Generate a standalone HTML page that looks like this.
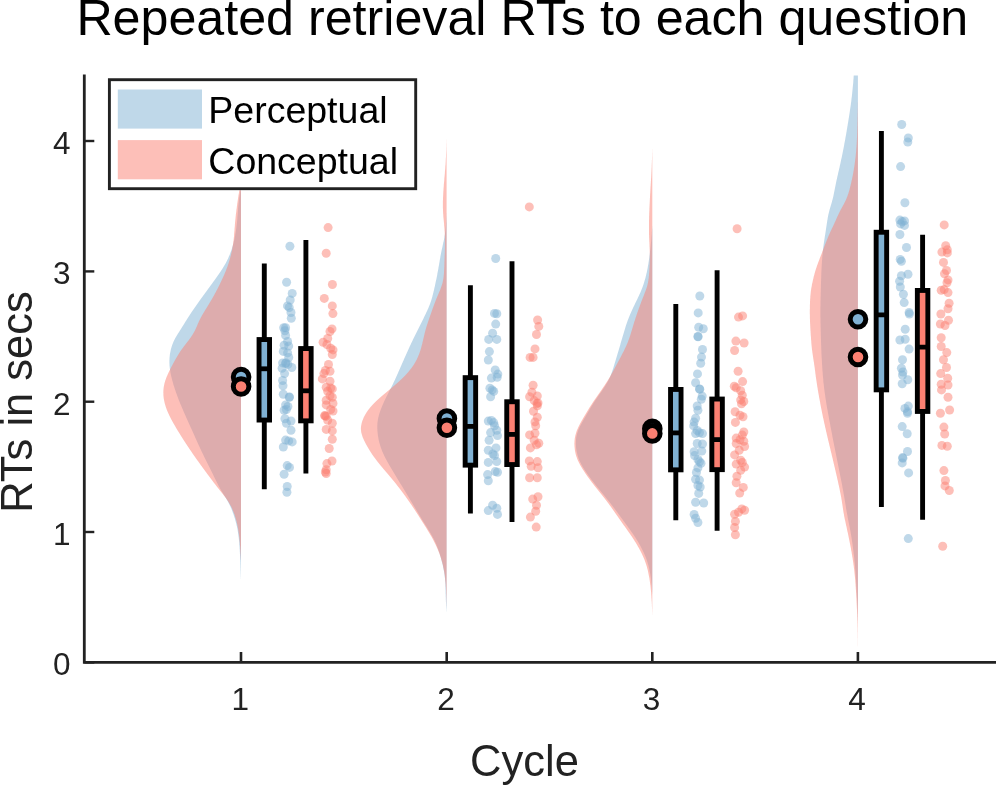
<!DOCTYPE html>
<html lang="en"><head><meta charset="utf-8"><title>Repeated retrieval RTs to each question</title>
<style>html,body{margin:0;padding:0;background:#fff;}body{width:996px;height:785px;overflow:hidden;}svg{display:block;}text{font-family:"Liberation Sans",Arial,Helvetica,sans-serif;}</style></head><body>
<svg width="996" height="785" viewBox="0 0 996 785">
<rect width="996" height="785" fill="#fff"/>
<defs><clipPath id="ax"><rect x="84.3" y="75.5" width="911.6" height="586.9"/></clipPath></defs>
<g clip-path="url(#ax)">
<path d="M241.0 190.2 L240.5 190.2 L240.3 191.2 L240.1 192.2 L240.0 193.2 L239.8 194.2 L239.6 195.2 L239.5 196.2 L239.3 197.2 L239.2 198.2 L239.1 199.2 L238.9 200.2 L238.8 201.2 L238.7 202.2 L238.6 203.2 L238.5 204.2 L238.4 205.2 L238.3 206.2 L238.2 207.2 L238.1 208.2 L238.1 209.2 L238.0 210.2 L237.9 211.2 L237.8 212.2 L237.8 213.2 L237.7 214.2 L237.6 215.2 L237.5 216.2 L237.4 217.2 L237.4 218.2 L237.3 219.2 L237.2 220.2 L237.1 221.2 L237.0 222.2 L236.9 223.2 L236.8 224.2 L236.6 225.2 L236.5 226.2 L236.4 227.2 L236.3 228.2 L236.1 229.2 L236.0 230.2 L235.8 231.2 L235.7 232.2 L235.5 233.2 L235.3 234.2 L235.2 235.2 L235.0 236.2 L234.8 237.2 L234.6 238.2 L234.4 239.2 L234.2 240.2 L233.9 241.2 L233.7 242.2 L233.5 243.2 L233.2 244.2 L232.9 245.2 L232.6 246.2 L232.3 247.2 L232.0 248.2 L231.7 249.2 L231.4 250.2 L231.0 251.2 L230.6 252.2 L230.3 253.2 L229.9 254.2 L229.5 255.2 L229.0 256.2 L228.6 257.2 L228.2 258.2 L227.7 259.2 L227.2 260.2 L226.7 261.2 L226.2 262.2 L225.7 263.2 L225.1 264.2 L224.5 265.2 L223.9 266.2 L223.3 267.2 L222.7 268.2 L222.1 269.2 L221.4 270.2 L220.8 271.2 L220.1 272.2 L219.4 273.2 L218.7 274.2 L218.0 275.2 L217.3 276.2 L216.6 277.2 L215.9 278.2 L215.2 279.2 L214.5 280.2 L213.7 281.2 L213.0 282.2 L212.3 283.2 L211.6 284.2 L210.8 285.2 L210.1 286.2 L209.4 287.2 L208.6 288.2 L207.9 289.2 L207.2 290.2 L206.5 291.2 L205.7 292.2 L205.0 293.2 L204.3 294.2 L203.5 295.2 L202.8 296.2 L202.1 297.2 L201.3 298.2 L200.6 299.2 L199.9 300.2 L199.2 301.2 L198.5 302.2 L197.8 303.2 L197.1 304.2 L196.4 305.2 L195.7 306.2 L195.0 307.2 L194.3 308.2 L193.6 309.2 L192.9 310.2 L192.2 311.2 L191.5 312.2 L190.9 313.2 L190.2 314.2 L189.6 315.2 L188.9 316.2 L188.3 317.2 L187.6 318.2 L187.0 319.2 L186.4 320.2 L185.7 321.2 L185.1 322.2 L184.5 323.2 L183.9 324.2 L183.3 325.2 L182.6 326.2 L182.0 327.2 L181.4 328.2 L180.8 329.2 L180.1 330.2 L179.5 331.2 L178.9 332.2 L178.2 333.2 L177.6 334.2 L177.0 335.2 L176.4 336.2 L175.8 337.2 L175.2 338.2 L174.7 339.2 L174.2 340.2 L173.7 341.2 L173.3 342.2 L172.9 343.2 L172.5 344.2 L172.1 345.2 L171.8 346.2 L171.5 347.2 L171.2 348.2 L170.9 349.2 L170.7 350.2 L170.5 351.2 L170.3 352.2 L170.1 353.2 L169.9 354.2 L169.8 355.2 L169.7 356.2 L169.6 357.2 L169.5 358.2 L169.5 359.2 L169.4 360.2 L169.4 361.2 L169.4 362.2 L169.4 363.2 L169.5 364.2 L169.5 365.2 L169.6 366.2 L169.7 367.2 L169.8 368.2 L170.0 369.2 L170.1 370.2 L170.3 371.2 L170.4 372.2 L170.6 373.2 L170.8 374.2 L171.0 375.2 L171.2 376.2 L171.5 377.2 L171.7 378.2 L172.0 379.2 L172.2 380.2 L172.5 381.2 L172.8 382.2 L173.1 383.2 L173.3 384.2 L173.6 385.2 L174.0 386.2 L174.3 387.2 L174.6 388.2 L174.9 389.2 L175.3 390.2 L175.6 391.2 L175.9 392.2 L176.3 393.2 L176.7 394.2 L177.0 395.2 L177.4 396.2 L177.8 397.2 L178.1 398.2 L178.5 399.2 L178.9 400.2 L179.3 401.2 L179.7 402.2 L180.1 403.2 L180.5 404.2 L181.0 405.2 L181.4 406.2 L181.8 407.2 L182.2 408.2 L182.7 409.2 L183.1 410.2 L183.5 411.2 L183.9 412.2 L184.4 413.2 L184.8 414.2 L185.3 415.2 L185.7 416.2 L186.1 417.2 L186.6 418.2 L187.0 419.2 L187.5 420.2 L187.9 421.2 L188.4 422.2 L188.8 423.2 L189.3 424.2 L189.7 425.2 L190.2 426.2 L190.6 427.2 L191.1 428.2 L191.6 429.2 L192.0 430.2 L192.5 431.2 L192.9 432.2 L193.4 433.2 L193.8 434.2 L194.3 435.2 L194.7 436.2 L195.1 437.2 L195.6 438.2 L196.0 439.2 L196.5 440.2 L196.9 441.2 L197.4 442.2 L197.8 443.2 L198.3 444.2 L198.7 445.2 L199.2 446.2 L199.7 447.2 L200.1 448.2 L200.6 449.2 L201.1 450.2 L201.5 451.2 L202.0 452.2 L202.5 453.2 L203.0 454.2 L203.5 455.2 L203.9 456.2 L204.4 457.2 L204.9 458.2 L205.4 459.2 L205.9 460.2 L206.4 461.2 L206.9 462.2 L207.4 463.2 L207.9 464.2 L208.4 465.2 L208.9 466.2 L209.4 467.2 L209.9 468.2 L210.4 469.2 L210.9 470.2 L211.4 471.2 L211.9 472.2 L212.4 473.2 L212.9 474.2 L213.4 475.2 L213.8 476.2 L214.3 477.2 L214.8 478.2 L215.3 479.2 L215.8 480.2 L216.3 481.2 L216.8 482.2 L217.3 483.2 L217.8 484.2 L218.3 485.2 L218.8 486.2 L219.4 487.2 L219.9 488.2 L220.5 489.2 L221.1 490.2 L221.7 491.2 L222.3 492.2 L222.9 493.2 L223.5 494.2 L224.2 495.2 L224.8 496.2 L225.4 497.2 L226.0 498.2 L226.6 499.2 L227.2 500.2 L227.7 501.2 L228.3 502.2 L228.8 503.2 L229.3 504.2 L229.8 505.2 L230.3 506.2 L230.7 507.2 L231.2 508.2 L231.6 509.2 L232.0 510.2 L232.4 511.2 L232.7 512.2 L233.1 513.2 L233.5 514.2 L233.8 515.2 L234.1 516.2 L234.4 517.2 L234.8 518.2 L235.1 519.2 L235.3 520.2 L235.6 521.2 L235.9 522.2 L236.2 523.2 L236.4 524.2 L236.6 525.2 L236.9 526.2 L237.1 527.2 L237.3 528.2 L237.5 529.2 L237.7 530.2 L237.8 531.2 L238.0 532.2 L238.1 533.2 L238.3 534.2 L238.4 535.2 L238.5 536.2 L238.7 537.2 L238.8 538.2 L238.9 539.2 L239.0 540.2 L239.1 541.2 L239.2 542.2 L239.3 543.2 L239.3 544.2 L239.4 545.2 L239.5 546.2 L239.6 547.2 L239.6 548.2 L239.7 549.2 L239.8 550.2 L239.8 551.2 L239.9 552.2 L239.9 553.2 L240.0 554.2 L240.0 555.2 L240.1 556.2 L240.1 557.2 L240.2 558.2 L240.2 559.2 L240.3 560.2 L240.3 561.2 L240.4 562.2 L240.4 563.2 L240.4 564.2 L240.5 565.2 L240.5 566.2 L240.5 567.2 L240.6 568.2 L240.6 569.2 L240.6 570.2 L240.7 571.2 L240.7 572.2 L240.7 573.2 L240.8 574.2 L240.8 575.2 L240.8 576.2 L240.9 577.2 L240.9 578.2 L240.9 579.2 L241.0 579.2 Z" fill="#80B1D3" fill-opacity="0.5"/>
<path d="M241.0 190.2 L239.3 190.2 L239.2 191.2 L239.0 192.2 L238.9 193.2 L238.7 194.2 L238.5 195.2 L238.4 196.2 L238.2 197.2 L238.1 198.2 L237.9 199.2 L237.8 200.2 L237.6 201.2 L237.5 202.2 L237.3 203.2 L237.2 204.2 L237.1 205.2 L236.9 206.2 L236.8 207.2 L236.7 208.2 L236.5 209.2 L236.4 210.2 L236.3 211.2 L236.2 212.2 L236.0 213.2 L235.9 214.2 L235.8 215.2 L235.7 216.2 L235.6 217.2 L235.5 218.2 L235.4 219.2 L235.3 220.2 L235.2 221.2 L235.1 222.2 L235.0 223.2 L234.9 224.2 L234.9 225.2 L234.8 226.2 L234.7 227.2 L234.6 228.2 L234.5 229.2 L234.5 230.2 L234.4 231.2 L234.3 232.2 L234.2 233.2 L234.1 234.2 L234.1 235.2 L234.0 236.2 L233.9 237.2 L233.8 238.2 L233.7 239.2 L233.6 240.2 L233.4 241.2 L233.3 242.2 L233.2 243.2 L233.0 244.2 L232.9 245.2 L232.7 246.2 L232.5 247.2 L232.4 248.2 L232.2 249.2 L232.0 250.2 L231.8 251.2 L231.5 252.2 L231.3 253.2 L231.1 254.2 L230.9 255.2 L230.6 256.2 L230.3 257.2 L230.1 258.2 L229.8 259.2 L229.5 260.2 L229.2 261.2 L228.9 262.2 L228.6 263.2 L228.3 264.2 L227.9 265.2 L227.6 266.2 L227.2 267.2 L226.8 268.2 L226.4 269.2 L226.1 270.2 L225.7 271.2 L225.2 272.2 L224.8 273.2 L224.4 274.2 L224.0 275.2 L223.5 276.2 L223.1 277.2 L222.6 278.2 L222.1 279.2 L221.7 280.2 L221.2 281.2 L220.7 282.2 L220.3 283.2 L219.8 284.2 L219.3 285.2 L218.8 286.2 L218.3 287.2 L217.8 288.2 L217.3 289.2 L216.7 290.2 L216.2 291.2 L215.7 292.2 L215.1 293.2 L214.6 294.2 L214.1 295.2 L213.5 296.2 L212.9 297.2 L212.4 298.2 L211.8 299.2 L211.2 300.2 L210.6 301.2 L210.0 302.2 L209.4 303.2 L208.8 304.2 L208.2 305.2 L207.6 306.2 L207.0 307.2 L206.4 308.2 L205.7 309.2 L205.1 310.2 L204.5 311.2 L203.9 312.2 L203.3 313.2 L202.7 314.2 L202.1 315.2 L201.6 316.2 L201.0 317.2 L200.5 318.2 L200.0 319.2 L199.5 320.2 L199.0 321.2 L198.6 322.2 L198.1 323.2 L197.7 324.2 L197.3 325.2 L196.9 326.2 L196.4 327.2 L196.0 328.2 L195.5 329.2 L195.1 330.2 L194.5 331.2 L194.0 332.2 L193.4 333.2 L192.8 334.2 L192.2 335.2 L191.5 336.2 L190.9 337.2 L190.1 338.2 L189.4 339.2 L188.7 340.2 L187.9 341.2 L187.1 342.2 L186.3 343.2 L185.6 344.2 L184.8 345.2 L184.0 346.2 L183.3 347.2 L182.6 348.2 L181.8 349.2 L181.1 350.2 L180.4 351.2 L179.8 352.2 L179.1 353.2 L178.5 354.2 L177.9 355.2 L177.3 356.2 L176.7 357.2 L176.1 358.2 L175.5 359.2 L175.0 360.2 L174.4 361.2 L173.9 362.2 L173.3 363.2 L172.8 364.2 L172.3 365.2 L171.7 366.2 L171.2 367.2 L170.7 368.2 L170.2 369.2 L169.7 370.2 L169.2 371.2 L168.7 372.2 L168.3 373.2 L167.8 374.2 L167.4 375.2 L166.9 376.2 L166.5 377.2 L166.1 378.2 L165.8 379.2 L165.4 380.2 L165.1 381.2 L164.8 382.2 L164.5 383.2 L164.3 384.2 L164.1 385.2 L163.9 386.2 L163.7 387.2 L163.6 388.2 L163.5 389.2 L163.4 390.2 L163.4 391.2 L163.3 392.2 L163.4 393.2 L163.4 394.2 L163.4 395.2 L163.5 396.2 L163.6 397.2 L163.7 398.2 L163.9 399.2 L164.1 400.2 L164.3 401.2 L164.5 402.2 L164.7 403.2 L165.0 404.2 L165.3 405.2 L165.6 406.2 L165.9 407.2 L166.3 408.2 L166.6 409.2 L167.0 410.2 L167.4 411.2 L167.9 412.2 L168.3 413.2 L168.8 414.2 L169.2 415.2 L169.7 416.2 L170.2 417.2 L170.7 418.2 L171.2 419.2 L171.8 420.2 L172.3 421.2 L172.9 422.2 L173.4 423.2 L174.0 424.2 L174.6 425.2 L175.2 426.2 L175.7 427.2 L176.3 428.2 L176.9 429.2 L177.5 430.2 L178.1 431.2 L178.8 432.2 L179.4 433.2 L180.0 434.2 L180.6 435.2 L181.2 436.2 L181.9 437.2 L182.5 438.2 L183.1 439.2 L183.8 440.2 L184.4 441.2 L185.1 442.2 L185.7 443.2 L186.4 444.2 L187.0 445.2 L187.7 446.2 L188.4 447.2 L189.0 448.2 L189.7 449.2 L190.4 450.2 L191.1 451.2 L191.8 452.2 L192.4 453.2 L193.1 454.2 L193.8 455.2 L194.5 456.2 L195.2 457.2 L195.9 458.2 L196.6 459.2 L197.3 460.2 L198.1 461.2 L198.8 462.2 L199.5 463.2 L200.2 464.2 L200.9 465.2 L201.7 466.2 L202.4 467.2 L203.1 468.2 L203.9 469.2 L204.6 470.2 L205.3 471.2 L206.1 472.2 L206.8 473.2 L207.5 474.2 L208.3 475.2 L209.0 476.2 L209.8 477.2 L210.5 478.2 L211.3 479.2 L212.0 480.2 L212.8 481.2 L213.5 482.2 L214.3 483.2 L215.1 484.2 L215.9 485.2 L216.6 486.2 L217.4 487.2 L218.2 488.2 L219.0 489.2 L219.8 490.2 L220.6 491.2 L221.4 492.2 L222.2 493.2 L223.0 494.2 L223.7 495.2 L224.5 496.2 L225.3 497.2 L226.0 498.2 L226.7 499.2 L227.4 500.2 L228.1 501.2 L228.7 502.2 L229.3 503.2 L229.9 504.2 L230.4 505.2 L231.0 506.2 L231.5 507.2 L232.0 508.2 L232.4 509.2 L232.8 510.2 L233.2 511.2 L233.6 512.2 L234.0 513.2 L234.4 514.2 L234.7 515.2 L235.0 516.2 L235.3 517.2 L235.6 518.2 L235.9 519.2 L236.2 520.2 L236.5 521.2 L236.7 522.2 L236.9 523.2 L237.2 524.2 L237.4 525.2 L237.6 526.2 L237.8 527.2 L238.0 528.2 L238.2 529.2 L238.3 530.2 L238.5 531.2 L238.6 532.2 L238.8 533.2 L238.9 534.2 L239.0 535.2 L239.2 536.2 L239.3 537.2 L239.4 538.2 L239.5 539.2 L239.6 540.2 L239.7 541.2 L239.8 542.2 L239.9 543.2 L239.9 544.2 L240.0 545.2 L240.1 546.2 L240.2 547.2 L240.2 548.2 L240.3 549.2 L240.4 550.2 L240.4 551.2 L240.5 552.2 L240.5 553.2 L240.6 554.2 L240.7 555.2 L240.7 556.2 L240.8 557.2 L240.8 558.2 L240.9 559.2 L240.9 560.2 L241.0 560.2 Z" fill="#FB8072" fill-opacity="0.5"/>
<path d="M446.6 211.5 L446.6 211.5 L446.6 212.5 L446.5 213.5 L446.5 214.5 L446.5 215.5 L446.4 216.5 L446.4 217.5 L446.3 218.5 L446.3 219.5 L446.2 220.5 L446.2 221.5 L446.1 222.5 L446.0 223.5 L446.0 224.5 L445.9 225.5 L445.8 226.5 L445.7 227.5 L445.6 228.5 L445.5 229.5 L445.4 230.5 L445.3 231.5 L445.1 232.5 L445.0 233.5 L444.9 234.5 L444.7 235.5 L444.5 236.5 L444.4 237.5 L444.2 238.5 L444.0 239.5 L443.8 240.5 L443.6 241.5 L443.3 242.5 L443.1 243.5 L442.9 244.5 L442.7 245.5 L442.5 246.5 L442.3 247.5 L442.0 248.5 L441.8 249.5 L441.6 250.5 L441.4 251.5 L441.2 252.5 L441.0 253.5 L440.8 254.5 L440.6 255.5 L440.4 256.5 L440.3 257.5 L440.1 258.5 L439.9 259.5 L439.7 260.5 L439.6 261.5 L439.4 262.5 L439.2 263.5 L439.1 264.5 L438.9 265.5 L438.7 266.5 L438.5 267.5 L438.4 268.5 L438.2 269.5 L438.0 270.5 L437.8 271.5 L437.6 272.5 L437.4 273.5 L437.3 274.5 L437.1 275.5 L436.9 276.5 L436.7 277.5 L436.5 278.5 L436.3 279.5 L436.0 280.5 L435.8 281.5 L435.6 282.5 L435.4 283.5 L435.2 284.5 L435.0 285.5 L434.8 286.5 L434.5 287.5 L434.3 288.5 L434.1 289.5 L433.9 290.5 L433.6 291.5 L433.4 292.5 L433.1 293.5 L432.9 294.5 L432.6 295.5 L432.4 296.5 L432.1 297.5 L431.8 298.5 L431.5 299.5 L431.2 300.5 L430.9 301.5 L430.5 302.5 L430.2 303.5 L429.8 304.5 L429.4 305.5 L429.0 306.5 L428.6 307.5 L428.2 308.5 L427.7 309.5 L427.3 310.5 L426.8 311.5 L426.3 312.5 L425.9 313.5 L425.4 314.5 L424.9 315.5 L424.4 316.5 L423.9 317.5 L423.5 318.5 L423.0 319.5 L422.5 320.5 L422.0 321.5 L421.5 322.5 L421.0 323.5 L420.5 324.5 L420.0 325.5 L419.5 326.5 L419.0 327.5 L418.5 328.5 L418.0 329.5 L417.5 330.5 L417.0 331.5 L416.5 332.5 L416.0 333.5 L415.5 334.5 L415.0 335.5 L414.5 336.5 L414.0 337.5 L413.5 338.5 L413.0 339.5 L412.6 340.5 L412.1 341.5 L411.6 342.5 L411.1 343.5 L410.7 344.5 L410.2 345.5 L409.7 346.5 L409.3 347.5 L408.8 348.5 L408.4 349.5 L407.9 350.5 L407.5 351.5 L407.0 352.5 L406.6 353.5 L406.1 354.5 L405.7 355.5 L405.2 356.5 L404.8 357.5 L404.3 358.5 L403.9 359.5 L403.5 360.5 L403.0 361.5 L402.6 362.5 L402.1 363.5 L401.7 364.5 L401.3 365.5 L400.8 366.5 L400.4 367.5 L400.0 368.5 L399.5 369.5 L399.1 370.5 L398.6 371.5 L398.2 372.5 L397.8 373.5 L397.3 374.5 L396.9 375.5 L396.4 376.5 L396.0 377.5 L395.5 378.5 L395.1 379.5 L394.6 380.5 L394.1 381.5 L393.6 382.5 L393.2 383.5 L392.7 384.5 L392.2 385.5 L391.7 386.5 L391.2 387.5 L390.7 388.5 L390.1 389.5 L389.6 390.5 L389.1 391.5 L388.6 392.5 L388.1 393.5 L387.6 394.5 L387.1 395.5 L386.5 396.5 L386.1 397.5 L385.6 398.5 L385.1 399.5 L384.6 400.5 L384.1 401.5 L383.7 402.5 L383.3 403.5 L382.8 404.5 L382.4 405.5 L382.0 406.5 L381.6 407.5 L381.2 408.5 L380.8 409.5 L380.4 410.5 L380.1 411.5 L379.7 412.5 L379.4 413.5 L379.1 414.5 L378.8 415.5 L378.6 416.5 L378.3 417.5 L378.1 418.5 L377.9 419.5 L377.8 420.5 L377.6 421.5 L377.5 422.5 L377.4 423.5 L377.4 424.5 L377.3 425.5 L377.3 426.5 L377.3 427.5 L377.3 428.5 L377.4 429.5 L377.4 430.5 L377.5 431.5 L377.6 432.5 L377.7 433.5 L377.8 434.5 L377.9 435.5 L378.1 436.5 L378.3 437.5 L378.4 438.5 L378.6 439.5 L378.8 440.5 L379.1 441.5 L379.3 442.5 L379.6 443.5 L379.9 444.5 L380.2 445.5 L380.5 446.5 L380.8 447.5 L381.2 448.5 L381.6 449.5 L381.9 450.5 L382.3 451.5 L382.8 452.5 L383.2 453.5 L383.7 454.5 L384.1 455.5 L384.6 456.5 L385.1 457.5 L385.6 458.5 L386.2 459.5 L386.7 460.5 L387.2 461.5 L387.8 462.5 L388.4 463.5 L388.9 464.5 L389.5 465.5 L390.1 466.5 L390.7 467.5 L391.3 468.5 L391.9 469.5 L392.5 470.5 L393.1 471.5 L393.7 472.5 L394.3 473.5 L394.9 474.5 L395.5 475.5 L396.1 476.5 L396.7 477.5 L397.3 478.5 L397.9 479.5 L398.5 480.5 L399.1 481.5 L399.7 482.5 L400.3 483.5 L401.0 484.5 L401.6 485.5 L402.2 486.5 L402.8 487.5 L403.4 488.5 L404.0 489.5 L404.6 490.5 L405.2 491.5 L405.8 492.5 L406.4 493.5 L407.0 494.5 L407.6 495.5 L408.2 496.5 L408.8 497.5 L409.4 498.5 L410.0 499.5 L410.6 500.5 L411.2 501.5 L411.8 502.5 L412.4 503.5 L413.0 504.5 L413.6 505.5 L414.2 506.5 L414.8 507.5 L415.4 508.5 L416.0 509.5 L416.6 510.5 L417.2 511.5 L417.8 512.5 L418.4 513.5 L419.0 514.5 L419.6 515.5 L420.2 516.5 L420.8 517.5 L421.4 518.5 L422.0 519.5 L422.6 520.5 L423.2 521.5 L423.9 522.5 L424.5 523.5 L425.1 524.5 L425.7 525.5 L426.4 526.5 L427.0 527.5 L427.6 528.5 L428.2 529.5 L428.8 530.5 L429.5 531.5 L430.1 532.5 L430.7 533.5 L431.2 534.5 L431.8 535.5 L432.4 536.5 L432.9 537.5 L433.5 538.5 L434.0 539.5 L434.5 540.5 L434.9 541.5 L435.4 542.5 L435.9 543.5 L436.3 544.5 L436.7 545.5 L437.1 546.5 L437.5 547.5 L437.9 548.5 L438.2 549.5 L438.6 550.5 L438.9 551.5 L439.3 552.5 L439.6 553.5 L439.9 554.5 L440.2 555.5 L440.5 556.5 L440.8 557.5 L441.1 558.5 L441.3 559.5 L441.6 560.5 L441.8 561.5 L442.1 562.5 L442.3 563.5 L442.6 564.5 L442.8 565.5 L443.0 566.5 L443.2 567.5 L443.4 568.5 L443.6 569.5 L443.8 570.5 L444.0 571.5 L444.2 572.5 L444.3 573.5 L444.5 574.5 L444.6 575.5 L444.7 576.5 L444.8 577.5 L445.0 578.5 L445.0 579.5 L445.1 580.5 L445.2 581.5 L445.3 582.5 L445.3 583.5 L445.4 584.5 L445.4 585.5 L445.4 586.5 L445.5 587.5 L445.5 588.5 L445.5 589.5 L445.6 590.5 L445.6 591.5 L445.6 592.5 L445.6 593.5 L445.7 594.5 L445.7 595.5 L445.7 596.5 L445.8 597.5 L445.8 598.5 L445.8 599.5 L445.9 600.5 L445.9 601.5 L446.0 602.5 L446.0 603.5 L446.1 604.5 L446.1 605.5 L446.2 606.5 L446.2 607.5 L446.3 608.5 L446.4 609.5 L446.4 610.5 L446.5 611.5 L446.6 612.5 L446.6 612.5 Z" fill="#80B1D3" fill-opacity="0.5"/>
<path d="M446.6 137.1 L446.6 137.1 L446.6 138.1 L446.6 139.1 L446.5 140.1 L446.5 141.1 L446.5 142.1 L446.5 143.1 L446.4 144.1 L446.4 145.1 L446.4 146.1 L446.4 147.1 L446.3 148.1 L446.3 149.1 L446.3 150.1 L446.2 151.1 L446.2 152.1 L446.1 153.1 L446.1 154.1 L446.0 155.1 L446.0 156.1 L446.0 157.1 L445.9 158.1 L445.8 159.1 L445.8 160.1 L445.7 161.1 L445.7 162.1 L445.6 163.1 L445.6 164.1 L445.5 165.1 L445.4 166.1 L445.3 167.1 L445.3 168.1 L445.2 169.1 L445.1 170.1 L445.0 171.1 L444.9 172.1 L444.9 173.1 L444.8 174.1 L444.7 175.1 L444.6 176.1 L444.5 177.1 L444.4 178.1 L444.3 179.1 L444.3 180.1 L444.2 181.1 L444.1 182.1 L444.0 183.1 L443.9 184.1 L443.8 185.1 L443.8 186.1 L443.7 187.1 L443.6 188.1 L443.5 189.1 L443.5 190.1 L443.4 191.1 L443.3 192.1 L443.3 193.1 L443.2 194.1 L443.2 195.1 L443.1 196.1 L443.1 197.1 L443.0 198.1 L443.0 199.1 L443.0 200.1 L442.9 201.1 L442.9 202.1 L442.9 203.1 L442.9 204.1 L442.9 205.1 L442.9 206.1 L442.9 207.1 L442.9 208.1 L443.0 209.1 L443.0 210.1 L443.0 211.1 L443.1 212.1 L443.1 213.1 L443.2 214.1 L443.3 215.1 L443.3 216.1 L443.4 217.1 L443.5 218.1 L443.6 219.1 L443.7 220.1 L443.8 221.1 L443.9 222.1 L444.0 223.1 L444.1 224.1 L444.1 225.1 L444.2 226.1 L444.3 227.1 L444.4 228.1 L444.5 229.1 L444.5 230.1 L444.6 231.1 L444.7 232.1 L444.7 233.1 L444.8 234.1 L444.8 235.1 L444.8 236.1 L444.9 237.1 L444.9 238.1 L444.9 239.1 L444.9 240.1 L444.9 241.1 L444.9 242.1 L444.9 243.1 L444.9 244.1 L444.9 245.1 L444.9 246.1 L444.9 247.1 L444.9 248.1 L444.9 249.1 L444.8 250.1 L444.8 251.1 L444.8 252.1 L444.8 253.1 L444.7 254.1 L444.7 255.1 L444.6 256.1 L444.6 257.1 L444.6 258.1 L444.5 259.1 L444.5 260.1 L444.5 261.1 L444.4 262.1 L444.4 263.1 L444.4 264.1 L444.3 265.1 L444.3 266.1 L444.3 267.1 L444.2 268.1 L444.2 269.1 L444.1 270.1 L444.1 271.1 L444.0 272.1 L444.0 273.1 L443.9 274.1 L443.8 275.1 L443.7 276.1 L443.6 277.1 L443.5 278.1 L443.3 279.1 L443.1 280.1 L442.9 281.1 L442.7 282.1 L442.5 283.1 L442.2 284.1 L441.9 285.1 L441.5 286.1 L441.2 287.1 L440.8 288.1 L440.5 289.1 L440.1 290.1 L439.7 291.1 L439.2 292.1 L438.8 293.1 L438.4 294.1 L438.0 295.1 L437.5 296.1 L437.1 297.1 L436.7 298.1 L436.3 299.1 L435.9 300.1 L435.5 301.1 L435.1 302.1 L434.7 303.1 L434.4 304.1 L434.0 305.1 L433.6 306.1 L433.3 307.1 L432.9 308.1 L432.5 309.1 L432.2 310.1 L431.8 311.1 L431.5 312.1 L431.1 313.1 L430.8 314.1 L430.4 315.1 L430.1 316.1 L429.7 317.1 L429.4 318.1 L429.0 319.1 L428.7 320.1 L428.4 321.1 L428.0 322.1 L427.7 323.1 L427.4 324.1 L427.0 325.1 L426.7 326.1 L426.4 327.1 L426.1 328.1 L425.8 329.1 L425.5 330.1 L425.3 331.1 L425.0 332.1 L424.7 333.1 L424.5 334.1 L424.3 335.1 L424.0 336.1 L423.8 337.1 L423.6 338.1 L423.3 339.1 L423.1 340.1 L422.9 341.1 L422.6 342.1 L422.4 343.1 L422.2 344.1 L421.9 345.1 L421.6 346.1 L421.4 347.1 L421.1 348.1 L420.8 349.1 L420.5 350.1 L420.2 351.1 L419.8 352.1 L419.5 353.1 L419.1 354.1 L418.7 355.1 L418.3 356.1 L417.9 357.1 L417.4 358.1 L417.0 359.1 L416.5 360.1 L415.9 361.1 L415.4 362.1 L414.8 363.1 L414.2 364.1 L413.6 365.1 L412.9 366.1 L412.2 367.1 L411.5 368.1 L410.7 369.1 L409.9 370.1 L409.1 371.1 L408.3 372.1 L407.4 373.1 L406.5 374.1 L405.6 375.1 L404.6 376.1 L403.6 377.1 L402.6 378.1 L401.6 379.1 L400.5 380.1 L399.5 381.1 L398.4 382.1 L397.2 383.1 L396.1 384.1 L395.0 385.1 L393.8 386.1 L392.6 387.1 L391.5 388.1 L390.3 389.1 L389.1 390.1 L387.9 391.1 L386.7 392.1 L385.5 393.1 L384.3 394.1 L383.1 395.1 L381.9 396.1 L380.8 397.1 L379.6 398.1 L378.5 399.1 L377.4 400.1 L376.3 401.1 L375.3 402.1 L374.3 403.1 L373.3 404.1 L372.4 405.1 L371.5 406.1 L370.6 407.1 L369.8 408.1 L369.0 409.1 L368.2 410.1 L367.5 411.1 L366.8 412.1 L366.2 413.1 L365.6 414.1 L365.0 415.1 L364.5 416.1 L363.9 417.1 L363.5 418.1 L363.1 419.1 L362.7 420.1 L362.3 421.1 L362.0 422.1 L361.7 423.1 L361.5 424.1 L361.3 425.1 L361.1 426.1 L361.0 427.1 L360.9 428.1 L360.9 429.1 L361.0 430.1 L361.1 431.1 L361.2 432.1 L361.4 433.1 L361.7 434.1 L362.0 435.1 L362.3 436.1 L362.6 437.1 L363.0 438.1 L363.5 439.1 L363.9 440.1 L364.4 441.1 L364.9 442.1 L365.4 443.1 L365.9 444.1 L366.5 445.1 L367.0 446.1 L367.6 447.1 L368.2 448.1 L368.8 449.1 L369.4 450.1 L370.0 451.1 L370.6 452.1 L371.3 453.1 L371.9 454.1 L372.6 455.1 L373.3 456.1 L374.0 457.1 L374.8 458.1 L375.5 459.1 L376.3 460.1 L377.0 461.1 L377.8 462.1 L378.6 463.1 L379.4 464.1 L380.2 465.1 L381.0 466.1 L381.9 467.1 L382.7 468.1 L383.5 469.1 L384.4 470.1 L385.2 471.1 L386.1 472.1 L387.0 473.1 L387.8 474.1 L388.7 475.1 L389.5 476.1 L390.3 477.1 L391.2 478.1 L392.0 479.1 L392.8 480.1 L393.7 481.1 L394.5 482.1 L395.3 483.1 L396.1 484.1 L396.9 485.1 L397.6 486.1 L398.4 487.1 L399.2 488.1 L400.0 489.1 L400.7 490.1 L401.5 491.1 L402.2 492.1 L403.0 493.1 L403.7 494.1 L404.4 495.1 L405.2 496.1 L405.9 497.1 L406.6 498.1 L407.3 499.1 L408.0 500.1 L408.7 501.1 L409.4 502.1 L410.1 503.1 L410.8 504.1 L411.5 505.1 L412.2 506.1 L412.8 507.1 L413.5 508.1 L414.2 509.1 L414.8 510.1 L415.5 511.1 L416.1 512.1 L416.8 513.1 L417.4 514.1 L418.1 515.1 L418.7 516.1 L419.3 517.1 L420.0 518.1 L420.6 519.1 L421.2 520.1 L421.9 521.1 L422.5 522.1 L423.1 523.1 L423.8 524.1 L424.4 525.1 L425.0 526.1 L425.7 527.1 L426.3 528.1 L426.9 529.1 L427.5 530.1 L428.1 531.1 L428.7 532.1 L429.3 533.1 L429.9 534.1 L430.5 535.1 L431.1 536.1 L431.7 537.1 L432.2 538.1 L432.8 539.1 L433.3 540.1 L433.8 541.1 L434.3 542.1 L434.8 543.1 L435.3 544.1 L435.8 545.1 L436.2 546.1 L436.7 547.1 L437.1 548.1 L437.6 549.1 L438.0 550.1 L438.4 551.1 L438.8 552.1 L439.2 553.1 L439.6 554.1 L439.9 555.1 L440.3 556.1 L440.6 557.1 L440.9 558.1 L441.2 559.1 L441.5 560.1 L441.8 561.1 L442.1 562.1 L442.4 563.1 L442.6 564.1 L442.9 565.1 L443.1 566.1 L443.3 567.1 L443.5 568.1 L443.7 569.1 L443.9 570.1 L444.1 571.1 L444.3 572.1 L444.4 573.1 L444.6 574.1 L444.7 575.1 L444.9 576.1 L445.0 577.1 L445.1 578.1 L445.2 579.1 L445.3 580.1 L445.4 581.1 L445.5 582.1 L445.6 583.1 L445.7 584.1 L445.7 585.1 L445.8 586.1 L445.9 587.1 L445.9 588.1 L446.0 589.1 L446.0 590.1 L446.1 591.1 L446.1 592.1 L446.1 593.1 L446.2 594.1 L446.2 595.1 L446.3 596.1 L446.3 597.1 L446.3 598.1 L446.4 599.1 L446.4 600.1 L446.4 601.1 L446.4 602.1 L446.5 603.1 L446.5 604.1 L446.5 605.1 L446.5 606.1 L446.6 607.1 L446.6 608.1 L446.6 608.1 Z" fill="#FB8072" fill-opacity="0.5"/>
<path d="M652.3 225.8 L652.3 225.8 L652.2 226.8 L652.2 227.8 L652.1 228.8 L652.0 229.8 L652.0 230.8 L651.9 231.8 L651.8 232.8 L651.8 233.8 L651.7 234.8 L651.6 235.8 L651.5 236.8 L651.4 237.8 L651.4 238.8 L651.3 239.8 L651.2 240.8 L651.1 241.8 L651.0 242.8 L650.9 243.8 L650.8 244.8 L650.7 245.8 L650.6 246.8 L650.5 247.8 L650.4 248.8 L650.3 249.8 L650.1 250.8 L650.0 251.8 L649.9 252.8 L649.8 253.8 L649.7 254.8 L649.5 255.8 L649.4 256.8 L649.3 257.8 L649.1 258.8 L649.0 259.8 L648.8 260.8 L648.7 261.8 L648.5 262.8 L648.4 263.8 L648.2 264.8 L648.0 265.8 L647.8 266.8 L647.7 267.8 L647.5 268.8 L647.3 269.8 L647.1 270.8 L646.9 271.8 L646.7 272.8 L646.4 273.8 L646.2 274.8 L646.0 275.8 L645.7 276.8 L645.5 277.8 L645.2 278.8 L644.9 279.8 L644.6 280.8 L644.3 281.8 L644.0 282.8 L643.7 283.8 L643.4 284.8 L643.0 285.8 L642.7 286.8 L642.3 287.8 L641.9 288.8 L641.5 289.8 L641.1 290.8 L640.7 291.8 L640.3 292.8 L639.8 293.8 L639.3 294.8 L638.9 295.8 L638.4 296.8 L637.9 297.8 L637.5 298.8 L637.0 299.8 L636.5 300.8 L636.0 301.8 L635.5 302.8 L635.0 303.8 L634.6 304.8 L634.1 305.8 L633.6 306.8 L633.1 307.8 L632.7 308.8 L632.2 309.8 L631.8 310.8 L631.3 311.8 L630.9 312.8 L630.4 313.8 L630.0 314.8 L629.6 315.8 L629.2 316.8 L628.8 317.8 L628.4 318.8 L628.0 319.8 L627.6 320.8 L627.3 321.8 L626.9 322.8 L626.6 323.8 L626.2 324.8 L625.9 325.8 L625.6 326.8 L625.3 327.8 L625.0 328.8 L624.7 329.8 L624.4 330.8 L624.1 331.8 L623.8 332.8 L623.5 333.8 L623.2 334.8 L622.9 335.8 L622.6 336.8 L622.3 337.8 L622.0 338.8 L621.7 339.8 L621.4 340.8 L621.1 341.8 L620.8 342.8 L620.5 343.8 L620.3 344.8 L620.0 345.8 L619.7 346.8 L619.4 347.8 L619.1 348.8 L618.8 349.8 L618.5 350.8 L618.2 351.8 L617.9 352.8 L617.6 353.8 L617.3 354.8 L617.0 355.8 L616.7 356.8 L616.4 357.8 L616.1 358.8 L615.8 359.8 L615.5 360.8 L615.2 361.8 L614.9 362.8 L614.6 363.8 L614.3 364.8 L614.0 365.8 L613.7 366.8 L613.4 367.8 L613.1 368.8 L612.7 369.8 L612.4 370.8 L612.1 371.8 L611.7 372.8 L611.3 373.8 L611.0 374.8 L610.6 375.8 L610.1 376.8 L609.7 377.8 L609.2 378.8 L608.7 379.8 L608.2 380.8 L607.7 381.8 L607.1 382.8 L606.5 383.8 L605.9 384.8 L605.3 385.8 L604.7 386.8 L604.0 387.8 L603.3 388.8 L602.7 389.8 L602.0 390.8 L601.3 391.8 L600.6 392.8 L599.9 393.8 L599.1 394.8 L598.4 395.8 L597.8 396.8 L597.1 397.8 L596.4 398.8 L595.7 399.8 L595.0 400.8 L594.4 401.8 L593.7 402.8 L593.1 403.8 L592.5 404.8 L591.9 405.8 L591.2 406.8 L590.6 407.8 L590.0 408.8 L589.5 409.8 L588.9 410.8 L588.3 411.8 L587.7 412.8 L587.1 413.8 L586.5 414.8 L586.0 415.8 L585.4 416.8 L584.8 417.8 L584.2 418.8 L583.6 419.8 L583.1 420.8 L582.5 421.8 L581.9 422.8 L581.4 423.8 L580.8 424.8 L580.3 425.8 L579.8 426.8 L579.3 427.8 L578.9 428.8 L578.4 429.8 L578.1 430.8 L577.7 431.8 L577.4 432.8 L577.1 433.8 L576.8 434.8 L576.6 435.8 L576.4 436.8 L576.2 437.8 L576.1 438.8 L576.0 439.8 L576.0 440.8 L575.9 441.8 L575.9 442.8 L575.9 443.8 L575.9 444.8 L576.0 445.8 L576.0 446.8 L576.1 447.8 L576.2 448.8 L576.4 449.8 L576.5 450.8 L576.7 451.8 L576.9 452.8 L577.2 453.8 L577.4 454.8 L577.7 455.8 L578.0 456.8 L578.3 457.8 L578.7 458.8 L579.1 459.8 L579.5 460.8 L580.0 461.8 L580.5 462.8 L581.0 463.8 L581.5 464.8 L582.1 465.8 L582.6 466.8 L583.2 467.8 L583.9 468.8 L584.5 469.8 L585.1 470.8 L585.8 471.8 L586.5 472.8 L587.2 473.8 L587.9 474.8 L588.6 475.8 L589.3 476.8 L590.1 477.8 L590.8 478.8 L591.5 479.8 L592.3 480.8 L593.1 481.8 L593.9 482.8 L594.6 483.8 L595.4 484.8 L596.2 485.8 L597.0 486.8 L597.8 487.8 L598.7 488.8 L599.5 489.8 L600.3 490.8 L601.1 491.8 L601.9 492.8 L602.8 493.8 L603.6 494.8 L604.4 495.8 L605.2 496.8 L606.0 497.8 L606.8 498.8 L607.6 499.8 L608.4 500.8 L609.2 501.8 L610.0 502.8 L610.8 503.8 L611.5 504.8 L612.3 505.8 L613.1 506.8 L613.8 507.8 L614.6 508.8 L615.3 509.8 L616.1 510.8 L616.8 511.8 L617.6 512.8 L618.3 513.8 L619.0 514.8 L619.8 515.8 L620.5 516.8 L621.2 517.8 L622.0 518.8 L622.7 519.8 L623.4 520.8 L624.2 521.8 L624.9 522.8 L625.6 523.8 L626.4 524.8 L627.1 525.8 L627.8 526.8 L628.5 527.8 L629.3 528.8 L630.0 529.8 L630.7 530.8 L631.4 531.8 L632.1 532.8 L632.8 533.8 L633.5 534.8 L634.2 535.8 L634.8 536.8 L635.5 537.8 L636.1 538.8 L636.7 539.8 L637.4 540.8 L638.0 541.8 L638.6 542.8 L639.1 543.8 L639.7 544.8 L640.3 545.8 L640.8 546.8 L641.3 547.8 L641.8 548.8 L642.3 549.8 L642.8 550.8 L643.3 551.8 L643.8 552.8 L644.2 553.8 L644.7 554.8 L645.1 555.8 L645.5 556.8 L645.9 557.8 L646.3 558.8 L646.6 559.8 L647.0 560.8 L647.3 561.8 L647.6 562.8 L647.9 563.8 L648.2 564.8 L648.5 565.8 L648.7 566.8 L649.0 567.8 L649.2 568.8 L649.4 569.8 L649.6 570.8 L649.8 571.8 L650.0 572.8 L650.2 573.8 L650.4 574.8 L650.5 575.8 L650.7 576.8 L650.8 577.8 L651.0 578.8 L651.1 579.8 L651.2 580.8 L651.3 581.8 L651.4 582.8 L651.5 583.8 L651.6 584.8 L651.7 585.8 L651.8 586.8 L651.9 587.8 L651.9 588.8 L652.0 589.8 L652.1 590.8 L652.1 591.8 L652.2 592.8 L652.2 593.8 L652.3 594.8 L652.3 594.8 Z" fill="#80B1D3" fill-opacity="0.5"/>
<path d="M652.3 147.3 L652.3 147.3 L652.3 148.3 L652.2 149.3 L652.2 150.3 L652.2 151.3 L652.2 152.3 L652.1 153.3 L652.1 154.3 L652.1 155.3 L652.1 156.3 L652.0 157.3 L652.0 158.3 L652.0 159.3 L651.9 160.3 L651.9 161.3 L651.9 162.3 L651.8 163.3 L651.8 164.3 L651.7 165.3 L651.7 166.3 L651.7 167.3 L651.6 168.3 L651.6 169.3 L651.5 170.3 L651.5 171.3 L651.4 172.3 L651.4 173.3 L651.3 174.3 L651.3 175.3 L651.2 176.3 L651.2 177.3 L651.1 178.3 L651.0 179.3 L651.0 180.3 L650.9 181.3 L650.9 182.3 L650.8 183.3 L650.7 184.3 L650.7 185.3 L650.6 186.3 L650.5 187.3 L650.5 188.3 L650.4 189.3 L650.4 190.3 L650.3 191.3 L650.3 192.3 L650.2 193.3 L650.1 194.3 L650.1 195.3 L650.0 196.3 L650.0 197.3 L649.9 198.3 L649.9 199.3 L649.8 200.3 L649.8 201.3 L649.7 202.3 L649.7 203.3 L649.6 204.3 L649.6 205.3 L649.5 206.3 L649.5 207.3 L649.4 208.3 L649.4 209.3 L649.4 210.3 L649.3 211.3 L649.3 212.3 L649.2 213.3 L649.2 214.3 L649.2 215.3 L649.1 216.3 L649.1 217.3 L649.1 218.3 L649.1 219.3 L649.0 220.3 L649.0 221.3 L649.0 222.3 L649.0 223.3 L649.0 224.3 L649.0 225.3 L649.0 226.3 L649.0 227.3 L649.0 228.3 L649.0 229.3 L649.0 230.3 L649.0 231.3 L649.0 232.3 L649.0 233.3 L649.0 234.3 L649.1 235.3 L649.1 236.3 L649.1 237.3 L649.2 238.3 L649.2 239.3 L649.3 240.3 L649.3 241.3 L649.4 242.3 L649.4 243.3 L649.5 244.3 L649.5 245.3 L649.5 246.3 L649.6 247.3 L649.6 248.3 L649.7 249.3 L649.7 250.3 L649.7 251.3 L649.8 252.3 L649.8 253.3 L649.8 254.3 L649.8 255.3 L649.8 256.3 L649.8 257.3 L649.8 258.3 L649.8 259.3 L649.8 260.3 L649.8 261.3 L649.7 262.3 L649.7 263.3 L649.7 264.3 L649.6 265.3 L649.6 266.3 L649.5 267.3 L649.4 268.3 L649.4 269.3 L649.3 270.3 L649.3 271.3 L649.2 272.3 L649.1 273.3 L649.0 274.3 L649.0 275.3 L648.9 276.3 L648.8 277.3 L648.7 278.3 L648.5 279.3 L648.4 280.3 L648.2 281.3 L648.1 282.3 L647.8 283.3 L647.6 284.3 L647.4 285.3 L647.1 286.3 L646.8 287.3 L646.5 288.3 L646.1 289.3 L645.8 290.3 L645.4 291.3 L645.0 292.3 L644.6 293.3 L644.3 294.3 L643.9 295.3 L643.5 296.3 L643.1 297.3 L642.7 298.3 L642.3 299.3 L641.9 300.3 L641.5 301.3 L641.1 302.3 L640.8 303.3 L640.4 304.3 L640.0 305.3 L639.7 306.3 L639.3 307.3 L638.9 308.3 L638.6 309.3 L638.2 310.3 L637.9 311.3 L637.5 312.3 L637.2 313.3 L636.8 314.3 L636.5 315.3 L636.2 316.3 L635.8 317.3 L635.5 318.3 L635.2 319.3 L634.9 320.3 L634.5 321.3 L634.2 322.3 L633.9 323.3 L633.6 324.3 L633.3 325.3 L633.0 326.3 L632.7 327.3 L632.4 328.3 L632.1 329.3 L631.8 330.3 L631.5 331.3 L631.2 332.3 L630.9 333.3 L630.6 334.3 L630.3 335.3 L630.0 336.3 L629.6 337.3 L629.3 338.3 L628.9 339.3 L628.5 340.3 L628.2 341.3 L627.8 342.3 L627.4 343.3 L626.9 344.3 L626.5 345.3 L626.1 346.3 L625.6 347.3 L625.1 348.3 L624.6 349.3 L624.2 350.3 L623.7 351.3 L623.2 352.3 L622.6 353.3 L622.1 354.3 L621.6 355.3 L621.1 356.3 L620.6 357.3 L620.0 358.3 L619.5 359.3 L619.0 360.3 L618.4 361.3 L617.9 362.3 L617.4 363.3 L616.8 364.3 L616.3 365.3 L615.8 366.3 L615.2 367.3 L614.7 368.3 L614.2 369.3 L613.6 370.3 L613.1 371.3 L612.5 372.3 L612.0 373.3 L611.4 374.3 L610.8 375.3 L610.3 376.3 L609.7 377.3 L609.1 378.3 L608.5 379.3 L607.9 380.3 L607.3 381.3 L606.6 382.3 L606.0 383.3 L605.3 384.3 L604.7 385.3 L604.0 386.3 L603.3 387.3 L602.6 388.3 L602.0 389.3 L601.3 390.3 L600.6 391.3 L599.9 392.3 L599.2 393.3 L598.5 394.3 L597.8 395.3 L597.1 396.3 L596.4 397.3 L595.7 398.3 L595.0 399.3 L594.3 400.3 L593.6 401.3 L593.0 402.3 L592.3 403.3 L591.7 404.3 L591.0 405.3 L590.4 406.3 L589.7 407.3 L589.1 408.3 L588.5 409.3 L587.9 410.3 L587.3 411.3 L586.7 412.3 L586.1 413.3 L585.5 414.3 L584.9 415.3 L584.3 416.3 L583.7 417.3 L583.1 418.3 L582.6 419.3 L582.0 420.3 L581.4 421.3 L580.9 422.3 L580.3 423.3 L579.8 424.3 L579.3 425.3 L578.8 426.3 L578.3 427.3 L577.9 428.3 L577.4 429.3 L577.0 430.3 L576.6 431.3 L576.3 432.3 L576.0 433.3 L575.7 434.3 L575.4 435.3 L575.2 436.3 L575.0 437.3 L574.8 438.3 L574.7 439.3 L574.6 440.3 L574.5 441.3 L574.5 442.3 L574.4 443.3 L574.4 444.3 L574.5 445.3 L574.5 446.3 L574.6 447.3 L574.7 448.3 L574.8 449.3 L574.9 450.3 L575.1 451.3 L575.3 452.3 L575.5 453.3 L575.7 454.3 L576.0 455.3 L576.3 456.3 L576.7 457.3 L577.0 458.3 L577.4 459.3 L577.8 460.3 L578.3 461.3 L578.8 462.3 L579.3 463.3 L579.8 464.3 L580.3 465.3 L580.9 466.3 L581.5 467.3 L582.1 468.3 L582.7 469.3 L583.4 470.3 L584.0 471.3 L584.7 472.3 L585.3 473.3 L586.0 474.3 L586.7 475.3 L587.4 476.3 L588.1 477.3 L588.9 478.3 L589.6 479.3 L590.3 480.3 L591.1 481.3 L591.8 482.3 L592.6 483.3 L593.4 484.3 L594.1 485.3 L594.9 486.3 L595.7 487.3 L596.5 488.3 L597.3 489.3 L598.1 490.3 L598.9 491.3 L599.7 492.3 L600.5 493.3 L601.3 494.3 L602.1 495.3 L602.9 496.3 L603.7 497.3 L604.5 498.3 L605.2 499.3 L606.0 500.3 L606.8 501.3 L607.5 502.3 L608.3 503.3 L609.0 504.3 L609.7 505.3 L610.5 506.3 L611.2 507.3 L611.9 508.3 L612.6 509.3 L613.3 510.3 L614.0 511.3 L614.7 512.3 L615.4 513.3 L616.1 514.3 L616.8 515.3 L617.5 516.3 L618.2 517.3 L618.9 518.3 L619.6 519.3 L620.3 520.3 L621.0 521.3 L621.7 522.3 L622.4 523.3 L623.1 524.3 L623.8 525.3 L624.6 526.3 L625.3 527.3 L626.0 528.3 L626.7 529.3 L627.4 530.3 L628.1 531.3 L628.8 532.3 L629.5 533.3 L630.2 534.3 L630.9 535.3 L631.6 536.3 L632.3 537.3 L632.9 538.3 L633.6 539.3 L634.2 540.3 L634.8 541.3 L635.5 542.3 L636.1 543.3 L636.7 544.3 L637.3 545.3 L637.8 546.3 L638.4 547.3 L639.0 548.3 L639.5 549.3 L640.1 550.3 L640.6 551.3 L641.1 552.3 L641.6 553.3 L642.1 554.3 L642.5 555.3 L643.0 556.3 L643.4 557.3 L643.9 558.3 L644.3 559.3 L644.7 560.3 L645.0 561.3 L645.4 562.3 L645.7 563.3 L646.1 564.3 L646.4 565.3 L646.7 566.3 L647.0 567.3 L647.2 568.3 L647.5 569.3 L647.8 570.3 L648.0 571.3 L648.2 572.3 L648.4 573.3 L648.6 574.3 L648.8 575.3 L649.0 576.3 L649.2 577.3 L649.4 578.3 L649.5 579.3 L649.7 580.3 L649.8 581.3 L650.0 582.3 L650.1 583.3 L650.2 584.3 L650.4 585.3 L650.5 586.3 L650.6 587.3 L650.7 588.3 L650.8 589.3 L650.9 590.3 L651.0 591.3 L651.1 592.3 L651.2 593.3 L651.2 594.3 L651.3 595.3 L651.4 596.3 L651.4 597.3 L651.5 598.3 L651.6 599.3 L651.6 600.3 L651.7 601.3 L651.8 602.3 L651.8 603.3 L651.9 604.3 L651.9 605.3 L651.9 606.3 L652.0 607.3 L652.0 608.3 L652.1 609.3 L652.1 610.3 L652.1 611.3 L652.2 612.3 L652.2 613.3 L652.2 614.3 L652.3 615.3 L652.3 616.3 L652.3 616.3 Z" fill="#FB8072" fill-opacity="0.5"/>
<path d="M857.9 60.0 L854.6 60.0 L854.6 61.0 L854.5 62.0 L854.5 63.0 L854.4 64.0 L854.4 65.0 L854.3 66.0 L854.3 67.0 L854.2 68.0 L854.2 69.0 L854.1 70.0 L854.0 71.0 L854.0 72.0 L853.9 73.0 L853.9 74.0 L853.8 75.0 L853.7 76.0 L853.6 77.0 L853.6 78.0 L853.5 79.0 L853.4 80.0 L853.3 81.0 L853.3 82.0 L853.2 83.0 L853.1 84.0 L853.0 85.0 L852.9 86.0 L852.8 87.0 L852.7 88.0 L852.6 89.0 L852.5 90.0 L852.4 91.0 L852.3 92.0 L852.2 93.0 L852.1 94.0 L852.0 95.0 L851.9 96.0 L851.8 97.0 L851.6 98.0 L851.5 99.0 L851.4 100.0 L851.3 101.0 L851.2 102.0 L851.0 103.0 L850.9 104.0 L850.8 105.0 L850.6 106.0 L850.5 107.0 L850.3 108.0 L850.2 109.0 L850.0 110.0 L849.9 111.0 L849.7 112.0 L849.6 113.0 L849.4 114.0 L849.3 115.0 L849.1 116.0 L849.0 117.0 L848.8 118.0 L848.6 119.0 L848.5 120.0 L848.3 121.0 L848.2 122.0 L848.0 123.0 L847.8 124.0 L847.7 125.0 L847.5 126.0 L847.3 127.0 L847.2 128.0 L847.0 129.0 L846.8 130.0 L846.7 131.0 L846.5 132.0 L846.3 133.0 L846.2 134.0 L846.0 135.0 L845.8 136.0 L845.6 137.0 L845.4 138.0 L845.3 139.0 L845.1 140.0 L844.9 141.0 L844.7 142.0 L844.5 143.0 L844.3 144.0 L844.2 145.0 L844.0 146.0 L843.8 147.0 L843.6 148.0 L843.4 149.0 L843.2 150.0 L843.0 151.0 L842.8 152.0 L842.6 153.0 L842.4 154.0 L842.2 155.0 L842.0 156.0 L841.8 157.0 L841.6 158.0 L841.3 159.0 L841.1 160.0 L840.9 161.0 L840.7 162.0 L840.5 163.0 L840.3 164.0 L840.0 165.0 L839.8 166.0 L839.6 167.0 L839.4 168.0 L839.1 169.0 L838.9 170.0 L838.7 171.0 L838.4 172.0 L838.2 173.0 L838.0 174.0 L837.8 175.0 L837.5 176.0 L837.3 177.0 L837.1 178.0 L836.9 179.0 L836.6 180.0 L836.4 181.0 L836.2 182.0 L836.0 183.0 L835.8 184.0 L835.6 185.0 L835.4 186.0 L835.2 187.0 L835.0 188.0 L834.8 189.0 L834.6 190.0 L834.4 191.0 L834.2 192.0 L834.0 193.0 L833.8 194.0 L833.6 195.0 L833.4 196.0 L833.2 197.0 L832.9 198.0 L832.7 199.0 L832.4 200.0 L832.1 201.0 L831.9 202.0 L831.6 203.0 L831.3 204.0 L831.0 205.0 L830.7 206.0 L830.4 207.0 L830.1 208.0 L829.8 209.0 L829.5 210.0 L829.3 211.0 L829.0 212.0 L828.8 213.0 L828.5 214.0 L828.3 215.0 L828.1 216.0 L827.9 217.0 L827.7 218.0 L827.6 219.0 L827.4 220.0 L827.2 221.0 L827.1 222.0 L826.9 223.0 L826.8 224.0 L826.6 225.0 L826.5 226.0 L826.3 227.0 L826.2 228.0 L826.0 229.0 L825.9 230.0 L825.7 231.0 L825.6 232.0 L825.4 233.0 L825.3 234.0 L825.1 235.0 L824.9 236.0 L824.8 237.0 L824.6 238.0 L824.5 239.0 L824.3 240.0 L824.2 241.0 L824.0 242.0 L823.9 243.0 L823.7 244.0 L823.6 245.0 L823.5 246.0 L823.3 247.0 L823.2 248.0 L823.1 249.0 L823.0 250.0 L822.9 251.0 L822.8 252.0 L822.7 253.0 L822.6 254.0 L822.5 255.0 L822.4 256.0 L822.3 257.0 L822.2 258.0 L822.2 259.0 L822.1 260.0 L822.0 261.0 L821.9 262.0 L821.9 263.0 L821.8 264.0 L821.7 265.0 L821.7 266.0 L821.6 267.0 L821.6 268.0 L821.5 269.0 L821.5 270.0 L821.4 271.0 L821.4 272.0 L821.3 273.0 L821.3 274.0 L821.3 275.0 L821.2 276.0 L821.2 277.0 L821.2 278.0 L821.1 279.0 L821.1 280.0 L821.1 281.0 L821.0 282.0 L821.0 283.0 L821.0 284.0 L820.9 285.0 L820.9 286.0 L820.9 287.0 L820.9 288.0 L820.8 289.0 L820.8 290.0 L820.8 291.0 L820.8 292.0 L820.7 293.0 L820.7 294.0 L820.7 295.0 L820.7 296.0 L820.6 297.0 L820.6 298.0 L820.6 299.0 L820.6 300.0 L820.5 301.0 L820.5 302.0 L820.5 303.0 L820.5 304.0 L820.5 305.0 L820.5 306.0 L820.4 307.0 L820.4 308.0 L820.4 309.0 L820.4 310.0 L820.4 311.0 L820.4 312.0 L820.4 313.0 L820.4 314.0 L820.4 315.0 L820.4 316.0 L820.4 317.0 L820.5 318.0 L820.5 319.0 L820.5 320.0 L820.5 321.0 L820.5 322.0 L820.5 323.0 L820.6 324.0 L820.6 325.0 L820.6 326.0 L820.6 327.0 L820.7 328.0 L820.7 329.0 L820.7 330.0 L820.7 331.0 L820.8 332.0 L820.8 333.0 L820.8 334.0 L820.8 335.0 L820.9 336.0 L820.9 337.0 L820.9 338.0 L821.0 339.0 L821.0 340.0 L821.0 341.0 L821.0 342.0 L821.1 343.0 L821.1 344.0 L821.1 345.0 L821.2 346.0 L821.2 347.0 L821.2 348.0 L821.3 349.0 L821.3 350.0 L821.4 351.0 L821.4 352.0 L821.4 353.0 L821.5 354.0 L821.5 355.0 L821.6 356.0 L821.6 357.0 L821.7 358.0 L821.8 359.0 L821.8 360.0 L821.9 361.0 L821.9 362.0 L822.0 363.0 L822.0 364.0 L822.1 365.0 L822.2 366.0 L822.2 367.0 L822.3 368.0 L822.4 369.0 L822.4 370.0 L822.5 371.0 L822.6 372.0 L822.7 373.0 L822.7 374.0 L822.8 375.0 L822.9 376.0 L823.0 377.0 L823.1 378.0 L823.2 379.0 L823.3 380.0 L823.3 381.0 L823.4 382.0 L823.5 383.0 L823.7 384.0 L823.8 385.0 L823.9 386.0 L824.0 387.0 L824.1 388.0 L824.2 389.0 L824.4 390.0 L824.5 391.0 L824.6 392.0 L824.8 393.0 L824.9 394.0 L825.1 395.0 L825.2 396.0 L825.3 397.0 L825.5 398.0 L825.6 399.0 L825.8 400.0 L826.0 401.0 L826.1 402.0 L826.3 403.0 L826.4 404.0 L826.6 405.0 L826.8 406.0 L826.9 407.0 L827.1 408.0 L827.3 409.0 L827.5 410.0 L827.7 411.0 L827.8 412.0 L828.0 413.0 L828.2 414.0 L828.4 415.0 L828.6 416.0 L828.8 417.0 L828.9 418.0 L829.1 419.0 L829.3 420.0 L829.5 421.0 L829.7 422.0 L829.9 423.0 L830.1 424.0 L830.3 425.0 L830.4 426.0 L830.6 427.0 L830.8 428.0 L831.0 429.0 L831.2 430.0 L831.4 431.0 L831.6 432.0 L831.8 433.0 L832.0 434.0 L832.2 435.0 L832.3 436.0 L832.5 437.0 L832.7 438.0 L832.9 439.0 L833.1 440.0 L833.3 441.0 L833.5 442.0 L833.7 443.0 L833.9 444.0 L834.1 445.0 L834.3 446.0 L834.5 447.0 L834.7 448.0 L834.9 449.0 L835.1 450.0 L835.3 451.0 L835.5 452.0 L835.7 453.0 L835.9 454.0 L836.1 455.0 L836.3 456.0 L836.5 457.0 L836.7 458.0 L836.9 459.0 L837.1 460.0 L837.3 461.0 L837.5 462.0 L837.7 463.0 L837.9 464.0 L838.1 465.0 L838.3 466.0 L838.5 467.0 L838.7 468.0 L838.9 469.0 L839.1 470.0 L839.3 471.0 L839.5 472.0 L839.7 473.0 L839.9 474.0 L840.1 475.0 L840.3 476.0 L840.5 477.0 L840.7 478.0 L840.9 479.0 L841.1 480.0 L841.3 481.0 L841.5 482.0 L841.7 483.0 L841.9 484.0 L842.1 485.0 L842.3 486.0 L842.4 487.0 L842.6 488.0 L842.8 489.0 L843.0 490.0 L843.2 491.0 L843.4 492.0 L843.5 493.0 L843.7 494.0 L843.9 495.0 L844.1 496.0 L844.2 497.0 L844.4 498.0 L844.6 499.0 L844.7 500.0 L844.9 501.0 L845.1 502.0 L845.2 503.0 L845.4 504.0 L845.6 505.0 L845.7 506.0 L845.9 507.0 L846.0 508.0 L846.2 509.0 L846.4 510.0 L846.5 511.0 L846.7 512.0 L846.9 513.0 L847.1 514.0 L847.3 515.0 L847.5 516.0 L847.6 517.0 L847.8 518.0 L848.0 519.0 L848.2 520.0 L848.4 521.0 L848.6 522.0 L848.8 523.0 L849.0 524.0 L849.2 525.0 L849.4 526.0 L849.6 527.0 L849.8 528.0 L850.0 529.0 L850.2 530.0 L850.4 531.0 L850.6 532.0 L850.7 533.0 L850.9 534.0 L851.1 535.0 L851.2 536.0 L851.4 537.0 L851.6 538.0 L851.7 539.0 L851.9 540.0 L852.0 541.0 L852.2 542.0 L852.3 543.0 L852.5 544.0 L852.6 545.0 L852.7 546.0 L852.9 547.0 L853.0 548.0 L853.1 549.0 L853.3 550.0 L853.4 551.0 L853.5 552.0 L853.6 553.0 L853.7 554.0 L853.9 555.0 L854.0 556.0 L854.1 557.0 L854.2 558.0 L854.3 559.0 L854.4 560.0 L854.5 561.0 L854.6 562.0 L854.7 563.0 L854.8 564.0 L854.9 565.0 L855.0 566.0 L855.1 567.0 L855.1 568.0 L855.2 569.0 L855.3 570.0 L855.4 571.0 L855.5 572.0 L855.5 573.0 L855.6 574.0 L855.7 575.0 L855.7 576.0 L855.8 577.0 L855.9 578.0 L855.9 579.0 L856.0 580.0 L856.1 581.0 L856.1 582.0 L856.2 583.0 L856.2 584.0 L856.3 585.0 L856.3 586.0 L856.4 587.0 L856.5 588.0 L856.5 589.0 L856.6 590.0 L856.6 591.0 L856.7 592.0 L856.7 593.0 L856.8 594.0 L856.8 595.0 L856.9 596.0 L856.9 597.0 L857.0 598.0 L857.0 599.0 L857.1 600.0 L857.1 601.0 L857.2 602.0 L857.2 603.0 L857.3 604.0 L857.3 605.0 L857.4 606.0 L857.4 607.0 L857.4 608.0 L857.5 609.0 L857.5 610.0 L857.6 611.0 L857.6 612.0 L857.6 613.0 L857.7 614.0 L857.7 615.0 L857.7 616.0 L857.7 617.0 L857.8 618.0 L857.8 619.0 L857.8 620.0 L857.9 621.0 L857.9 622.0 L857.9 622.0 Z" fill="#80B1D3" fill-opacity="0.5"/>
<path d="M857.9 100.8 L857.9 100.8 L857.9 101.8 L857.8 102.8 L857.8 103.8 L857.8 104.8 L857.8 105.8 L857.8 106.8 L857.8 107.8 L857.7 108.8 L857.7 109.8 L857.7 110.8 L857.7 111.8 L857.7 112.8 L857.6 113.8 L857.6 114.8 L857.6 115.8 L857.6 116.8 L857.5 117.8 L857.5 118.8 L857.5 119.8 L857.5 120.8 L857.5 121.8 L857.4 122.8 L857.4 123.8 L857.4 124.8 L857.4 125.8 L857.3 126.8 L857.3 127.8 L857.3 128.8 L857.2 129.8 L857.2 130.8 L857.2 131.8 L857.2 132.8 L857.1 133.8 L857.1 134.8 L857.1 135.8 L857.0 136.8 L857.0 137.8 L856.9 138.8 L856.9 139.8 L856.8 140.8 L856.8 141.8 L856.7 142.8 L856.7 143.8 L856.6 144.8 L856.5 145.8 L856.5 146.8 L856.4 147.8 L856.3 148.8 L856.2 149.8 L856.2 150.8 L856.1 151.8 L856.0 152.8 L855.9 153.8 L855.8 154.8 L855.7 155.8 L855.6 156.8 L855.5 157.8 L855.3 158.8 L855.2 159.8 L855.1 160.8 L855.0 161.8 L854.8 162.8 L854.7 163.8 L854.6 164.8 L854.4 165.8 L854.3 166.8 L854.1 167.8 L853.9 168.8 L853.8 169.8 L853.6 170.8 L853.4 171.8 L853.3 172.8 L853.1 173.8 L852.9 174.8 L852.7 175.8 L852.5 176.8 L852.3 177.8 L852.1 178.8 L851.9 179.8 L851.6 180.8 L851.4 181.8 L851.2 182.8 L851.0 183.8 L850.7 184.8 L850.5 185.8 L850.2 186.8 L850.0 187.8 L849.7 188.8 L849.5 189.8 L849.2 190.8 L848.9 191.8 L848.6 192.8 L848.3 193.8 L847.9 194.8 L847.6 195.8 L847.2 196.8 L846.8 197.8 L846.4 198.8 L846.0 199.8 L845.5 200.8 L845.0 201.8 L844.5 202.8 L844.0 203.8 L843.5 204.8 L842.9 205.8 L842.4 206.8 L841.8 207.8 L841.3 208.8 L840.7 209.8 L840.2 210.8 L839.7 211.8 L839.2 212.8 L838.7 213.8 L838.3 214.8 L837.8 215.8 L837.3 216.8 L836.9 217.8 L836.4 218.8 L836.0 219.8 L835.6 220.8 L835.1 221.8 L834.6 222.8 L834.2 223.8 L833.7 224.8 L833.3 225.8 L832.8 226.8 L832.3 227.8 L831.8 228.8 L831.4 229.8 L830.9 230.8 L830.4 231.8 L830.0 232.8 L829.5 233.8 L829.1 234.8 L828.6 235.8 L828.2 236.8 L827.8 237.8 L827.4 238.8 L827.0 239.8 L826.6 240.8 L826.2 241.8 L825.8 242.8 L825.4 243.8 L825.0 244.8 L824.6 245.8 L824.2 246.8 L823.9 247.8 L823.5 248.8 L823.1 249.8 L822.7 250.8 L822.3 251.8 L822.0 252.8 L821.6 253.8 L821.2 254.8 L820.8 255.8 L820.4 256.8 L820.0 257.8 L819.6 258.8 L819.3 259.8 L818.9 260.8 L818.5 261.8 L818.1 262.8 L817.8 263.8 L817.4 264.8 L817.0 265.8 L816.7 266.8 L816.4 267.8 L816.0 268.8 L815.7 269.8 L815.4 270.8 L815.1 271.8 L814.8 272.8 L814.5 273.8 L814.3 274.8 L814.0 275.8 L813.7 276.8 L813.5 277.8 L813.3 278.8 L813.0 279.8 L812.8 280.8 L812.6 281.8 L812.4 282.8 L812.1 283.8 L811.9 284.8 L811.8 285.8 L811.6 286.8 L811.4 287.8 L811.2 288.8 L811.1 289.8 L810.9 290.8 L810.8 291.8 L810.7 292.8 L810.6 293.8 L810.5 294.8 L810.4 295.8 L810.3 296.8 L810.3 297.8 L810.2 298.8 L810.1 299.8 L810.1 300.8 L810.0 301.8 L810.0 302.8 L810.0 303.8 L809.9 304.8 L809.9 305.8 L809.9 306.8 L809.9 307.8 L809.9 308.8 L809.8 309.8 L809.8 310.8 L809.8 311.8 L809.8 312.8 L809.8 313.8 L809.9 314.8 L809.9 315.8 L809.9 316.8 L809.9 317.8 L809.9 318.8 L810.0 319.8 L810.0 320.8 L810.0 321.8 L810.1 322.8 L810.1 323.8 L810.2 324.8 L810.2 325.8 L810.3 326.8 L810.3 327.8 L810.4 328.8 L810.4 329.8 L810.5 330.8 L810.6 331.8 L810.6 332.8 L810.7 333.8 L810.7 334.8 L810.8 335.8 L810.9 336.8 L811.0 337.8 L811.0 338.8 L811.1 339.8 L811.2 340.8 L811.3 341.8 L811.3 342.8 L811.4 343.8 L811.5 344.8 L811.6 345.8 L811.7 346.8 L811.8 347.8 L811.9 348.8 L812.0 349.8 L812.2 350.8 L812.3 351.8 L812.4 352.8 L812.6 353.8 L812.7 354.8 L812.9 355.8 L813.0 356.8 L813.2 357.8 L813.3 358.8 L813.5 359.8 L813.6 360.8 L813.8 361.8 L814.0 362.8 L814.1 363.8 L814.2 364.8 L814.4 365.8 L814.5 366.8 L814.7 367.8 L814.8 368.8 L814.9 369.8 L815.1 370.8 L815.2 371.8 L815.3 372.8 L815.4 373.8 L815.6 374.8 L815.7 375.8 L815.8 376.8 L816.0 377.8 L816.1 378.8 L816.3 379.8 L816.4 380.8 L816.6 381.8 L816.7 382.8 L816.9 383.8 L817.0 384.8 L817.2 385.8 L817.3 386.8 L817.5 387.8 L817.7 388.8 L817.8 389.8 L818.0 390.8 L818.2 391.8 L818.3 392.8 L818.5 393.8 L818.7 394.8 L818.9 395.8 L819.0 396.8 L819.2 397.8 L819.4 398.8 L819.6 399.8 L819.8 400.8 L820.0 401.8 L820.2 402.8 L820.3 403.8 L820.5 404.8 L820.7 405.8 L820.9 406.8 L821.1 407.8 L821.3 408.8 L821.5 409.8 L821.7 410.8 L821.9 411.8 L822.1 412.8 L822.3 413.8 L822.5 414.8 L822.7 415.8 L822.9 416.8 L823.1 417.8 L823.4 418.8 L823.6 419.8 L823.8 420.8 L824.0 421.8 L824.2 422.8 L824.4 423.8 L824.7 424.8 L824.9 425.8 L825.1 426.8 L825.3 427.8 L825.6 428.8 L825.8 429.8 L826.0 430.8 L826.2 431.8 L826.5 432.8 L826.7 433.8 L826.9 434.8 L827.2 435.8 L827.4 436.8 L827.6 437.8 L827.9 438.8 L828.1 439.8 L828.3 440.8 L828.6 441.8 L828.8 442.8 L829.1 443.8 L829.3 444.8 L829.5 445.8 L829.8 446.8 L830.0 447.8 L830.3 448.8 L830.5 449.8 L830.7 450.8 L831.0 451.8 L831.2 452.8 L831.5 453.8 L831.7 454.8 L831.9 455.8 L832.2 456.8 L832.4 457.8 L832.7 458.8 L832.9 459.8 L833.1 460.8 L833.4 461.8 L833.6 462.8 L833.8 463.8 L834.1 464.8 L834.3 465.8 L834.5 466.8 L834.8 467.8 L835.0 468.8 L835.2 469.8 L835.5 470.8 L835.7 471.8 L835.9 472.8 L836.2 473.8 L836.4 474.8 L836.6 475.8 L836.9 476.8 L837.1 477.8 L837.3 478.8 L837.5 479.8 L837.8 480.8 L838.0 481.8 L838.2 482.8 L838.4 483.8 L838.6 484.8 L838.9 485.8 L839.1 486.8 L839.3 487.8 L839.5 488.8 L839.7 489.8 L839.9 490.8 L840.1 491.8 L840.3 492.8 L840.5 493.8 L840.7 494.8 L840.9 495.8 L841.1 496.8 L841.3 497.8 L841.4 498.8 L841.6 499.8 L841.8 500.8 L841.9 501.8 L842.1 502.8 L842.2 503.8 L842.4 504.8 L842.5 505.8 L842.7 506.8 L842.8 507.8 L843.0 508.8 L843.1 509.8 L843.3 510.8 L843.4 511.8 L843.6 512.8 L843.8 513.8 L844.0 514.8 L844.1 515.8 L844.3 516.8 L844.5 517.8 L844.7 518.8 L844.9 519.8 L845.2 520.8 L845.4 521.8 L845.6 522.8 L845.8 523.8 L846.0 524.8 L846.2 525.8 L846.5 526.8 L846.7 527.8 L846.9 528.8 L847.1 529.8 L847.3 530.8 L847.5 531.8 L847.8 532.8 L848.0 533.8 L848.2 534.8 L848.4 535.8 L848.6 536.8 L848.8 537.8 L849.0 538.8 L849.2 539.8 L849.4 540.8 L849.6 541.8 L849.8 542.8 L850.0 543.8 L850.2 544.8 L850.4 545.8 L850.6 546.8 L850.8 547.8 L851.0 548.8 L851.1 549.8 L851.3 550.8 L851.5 551.8 L851.7 552.8 L851.8 553.8 L852.0 554.8 L852.2 555.8 L852.3 556.8 L852.5 557.8 L852.7 558.8 L852.8 559.8 L853.0 560.8 L853.1 561.8 L853.3 562.8 L853.4 563.8 L853.5 564.8 L853.7 565.8 L853.8 566.8 L853.9 567.8 L854.1 568.8 L854.2 569.8 L854.3 570.8 L854.4 571.8 L854.5 572.8 L854.6 573.8 L854.7 574.8 L854.8 575.8 L854.9 576.8 L855.0 577.8 L855.1 578.8 L855.2 579.8 L855.3 580.8 L855.3 581.8 L855.4 582.8 L855.5 583.8 L855.6 584.8 L855.6 585.8 L855.7 586.8 L855.8 587.8 L855.8 588.8 L855.9 589.8 L856.0 590.8 L856.0 591.8 L856.1 592.8 L856.2 593.8 L856.2 594.8 L856.3 595.8 L856.3 596.8 L856.4 597.8 L856.4 598.8 L856.5 599.8 L856.5 600.8 L856.6 601.8 L856.6 602.8 L856.7 603.8 L856.7 604.8 L856.8 605.8 L856.8 606.8 L856.9 607.8 L856.9 608.8 L857.0 609.8 L857.0 610.8 L857.0 611.8 L857.1 612.8 L857.1 613.8 L857.2 614.8 L857.2 615.8 L857.2 616.8 L857.3 617.8 L857.3 618.8 L857.3 619.8 L857.4 620.8 L857.4 621.8 L857.4 622.8 L857.5 623.8 L857.5 624.8 L857.5 625.8 L857.5 626.8 L857.6 627.8 L857.6 628.8 L857.6 629.8 L857.6 630.8 L857.6 631.8 L857.7 632.8 L857.7 633.8 L857.7 634.8 L857.7 635.8 L857.7 636.8 L857.7 637.8 L857.8 638.8 L857.8 639.8 L857.8 640.8 L857.8 641.8 L857.8 642.8 L857.8 643.8 L857.8 644.8 L857.8 645.8 L857.9 646.8 L857.9 647.8 L857.9 648.8 L857.9 649.8 L857.9 649.8 Z" fill="#FB8072" fill-opacity="0.5"/>
<g fill="#80B1D3" fill-opacity="0.5">
<circle cx="289.9" cy="246.3" r="4.5"/><circle cx="286.6" cy="282.2" r="4.5"/><circle cx="292.2" cy="293.4" r="4.5"/><circle cx="290.2" cy="300.0" r="4.5"/><circle cx="287.5" cy="305.9" r="4.5"/><circle cx="289.2" cy="307.5" r="4.5"/><circle cx="291.0" cy="312.5" r="4.5"/><circle cx="291.3" cy="318.3" r="4.5"/><circle cx="283.7" cy="327.8" r="4.5"/><circle cx="285.6" cy="327.8" r="4.5"/><circle cx="284.9" cy="330.8" r="4.5"/><circle cx="285.6" cy="335.4" r="4.5"/><circle cx="287.6" cy="341.5" r="4.5"/><circle cx="284.1" cy="345.3" r="4.5"/><circle cx="288.7" cy="346.1" r="4.5"/><circle cx="283.3" cy="351.4" r="4.5"/><circle cx="287.6" cy="352.9" r="4.5"/><circle cx="288.7" cy="357.5" r="4.5"/><circle cx="282.6" cy="362.9" r="4.5"/><circle cx="285.6" cy="363.6" r="4.5"/><circle cx="285.9" cy="362.7" r="4.5"/><circle cx="287.9" cy="364.4" r="4.5"/><circle cx="291.8" cy="367.5" r="4.5"/><circle cx="282.1" cy="368.2" r="4.5"/><circle cx="284.6" cy="373.6" r="4.5"/><circle cx="282.6" cy="380.5" r="4.5"/><circle cx="283.0" cy="385.8" r="4.5"/><circle cx="283.3" cy="394.2" r="4.5"/><circle cx="289.5" cy="397.0" r="4.5"/><circle cx="289.2" cy="397.3" r="4.5"/><circle cx="285.6" cy="404.9" r="4.5"/><circle cx="287.9" cy="406.5" r="4.5"/><circle cx="284.1" cy="410.3" r="4.5"/><circle cx="286.4" cy="409.5" r="4.5"/><circle cx="284.9" cy="418.7" r="4.5"/><circle cx="291.0" cy="421.0" r="4.5"/><circle cx="286.4" cy="423.3" r="4.5"/><circle cx="291.0" cy="430.2" r="4.5"/><circle cx="285.6" cy="440.1" r="4.5"/><circle cx="288.7" cy="440.9" r="4.5"/><circle cx="292.2" cy="441.9" r="4.5"/><circle cx="283.3" cy="447.0" r="4.5"/><circle cx="287.2" cy="465.6" r="4.5"/><circle cx="289.5" cy="467.4" r="4.5"/><circle cx="284.1" cy="474.3" r="4.5"/><circle cx="287.2" cy="486.5" r="4.5"/><circle cx="286.9" cy="492.2" r="4.5"/>
</g>
<g fill="#FB8072" fill-opacity="0.5">
<circle cx="328.1" cy="227.6" r="4.5"/><circle cx="326.2" cy="253.3" r="4.5"/><circle cx="332.4" cy="284.5" r="4.5"/><circle cx="324.3" cy="298.4" r="4.5"/><circle cx="332.3" cy="305.9" r="4.5"/><circle cx="332.9" cy="313.6" r="4.5"/><circle cx="332.0" cy="328.9" r="4.5"/><circle cx="330.0" cy="331.5" r="4.5"/><circle cx="327.7" cy="338.4" r="4.5"/><circle cx="323.1" cy="342.2" r="4.5"/><circle cx="326.9" cy="344.5" r="4.5"/><circle cx="330.7" cy="348.3" r="4.5"/><circle cx="333.0" cy="349.9" r="4.5"/><circle cx="332.3" cy="354.5" r="4.5"/><circle cx="328.5" cy="364.4" r="4.5"/><circle cx="325.4" cy="370.5" r="4.5"/><circle cx="330.0" cy="371.3" r="4.5"/><circle cx="323.9" cy="373.6" r="4.5"/><circle cx="322.3" cy="378.9" r="4.5"/><circle cx="330.0" cy="381.2" r="4.5"/><circle cx="326.2" cy="387.3" r="4.5"/><circle cx="330.7" cy="388.1" r="4.5"/><circle cx="332.3" cy="388.9" r="4.5"/><circle cx="327.7" cy="391.2" r="4.5"/><circle cx="330.0" cy="395.7" r="4.5"/><circle cx="332.3" cy="397.3" r="4.5"/><circle cx="326.2" cy="400.3" r="4.5"/><circle cx="333.0" cy="403.4" r="4.5"/><circle cx="326.2" cy="404.9" r="4.5"/><circle cx="330.7" cy="409.5" r="4.5"/><circle cx="324.6" cy="415.6" r="4.5"/><circle cx="326.2" cy="416.4" r="4.5"/><circle cx="325.1" cy="415.9" r="4.5"/><circle cx="333.0" cy="411.0" r="4.5"/><circle cx="327.7" cy="420.2" r="4.5"/><circle cx="332.3" cy="423.3" r="4.5"/><circle cx="326.2" cy="429.4" r="4.5"/><circle cx="332.3" cy="430.9" r="4.5"/><circle cx="332.3" cy="439.3" r="4.5"/><circle cx="329.2" cy="448.5" r="4.5"/><circle cx="332.0" cy="461.0" r="4.5"/><circle cx="326.9" cy="463.6" r="4.5"/><circle cx="326.2" cy="469.7" r="4.5"/><circle cx="325.4" cy="472.0" r="4.5"/><circle cx="326.2" cy="473.5" r="4.5"/>
</g>
<g fill="#80B1D3" fill-opacity="0.5">
<circle cx="495.7" cy="258.5" r="4.5"/><circle cx="494.5" cy="313.4" r="4.5"/><circle cx="496.8" cy="313.7" r="4.5"/><circle cx="495.7" cy="324.1" r="4.5"/><circle cx="492.6" cy="333.3" r="4.5"/><circle cx="488.7" cy="339.4" r="4.5"/><circle cx="496.8" cy="339.4" r="4.5"/><circle cx="489.4" cy="351.6" r="4.5"/><circle cx="488.3" cy="360.0" r="4.5"/><circle cx="495.2" cy="370.0" r="4.5"/><circle cx="497.8" cy="374.1" r="4.5"/><circle cx="491.4" cy="378.1" r="4.5"/><circle cx="497.2" cy="377.2" r="4.5"/><circle cx="489.9" cy="388.3" r="4.5"/><circle cx="492.2" cy="389.9" r="4.5"/><circle cx="493.7" cy="391.4" r="4.5"/><circle cx="490.6" cy="396.7" r="4.5"/><circle cx="488.3" cy="421.1" r="4.5"/><circle cx="491.4" cy="420.4" r="4.5"/><circle cx="493.7" cy="422.6" r="4.5"/><circle cx="494.5" cy="425.7" r="4.5"/><circle cx="496.8" cy="430.3" r="4.5"/><circle cx="490.6" cy="432.6" r="4.5"/><circle cx="497.5" cy="435.6" r="4.5"/><circle cx="489.1" cy="440.2" r="4.5"/><circle cx="496.0" cy="447.9" r="4.5"/><circle cx="488.3" cy="450.2" r="4.5"/><circle cx="492.9" cy="454.0" r="4.5"/><circle cx="494.5" cy="455.5" r="4.5"/><circle cx="488.3" cy="462.4" r="4.5"/><circle cx="496.8" cy="461.6" r="4.5"/><circle cx="495.2" cy="471.6" r="4.5"/><circle cx="497.5" cy="472.3" r="4.5"/><circle cx="487.6" cy="474.6" r="4.5"/><circle cx="488.3" cy="480.7" r="4.5"/><circle cx="492.6" cy="505.2" r="4.5"/><circle cx="488.3" cy="510.6" r="4.5"/><circle cx="496.8" cy="508.3" r="4.5"/><circle cx="497.5" cy="514.4" r="4.5"/>
</g>
<g fill="#FB8072" fill-opacity="0.5">
<circle cx="529.3" cy="206.9" r="4.5"/><circle cx="537.6" cy="320.0" r="4.5"/><circle cx="538.8" cy="326.4" r="4.5"/><circle cx="536.5" cy="334.5" r="4.5"/><circle cx="535.0" cy="348.9" r="4.5"/><circle cx="530.1" cy="357.4" r="4.5"/><circle cx="533.1" cy="357.4" r="4.5"/><circle cx="533.1" cy="385.3" r="4.5"/><circle cx="531.9" cy="392.2" r="4.5"/><circle cx="537.3" cy="396.0" r="4.5"/><circle cx="529.6" cy="396.7" r="4.5"/><circle cx="534.2" cy="400.6" r="4.5"/><circle cx="538.0" cy="402.9" r="4.5"/><circle cx="537.0" cy="403.6" r="4.5"/><circle cx="537.3" cy="405.9" r="4.5"/><circle cx="533.5" cy="411.3" r="4.5"/><circle cx="537.3" cy="417.3" r="4.5"/><circle cx="535.0" cy="421.9" r="4.5"/><circle cx="535.7" cy="425.7" r="4.5"/><circle cx="535.0" cy="433.3" r="4.5"/><circle cx="529.6" cy="434.9" r="4.5"/><circle cx="534.2" cy="440.2" r="4.5"/><circle cx="538.8" cy="443.3" r="4.5"/><circle cx="536.5" cy="444.8" r="4.5"/><circle cx="530.4" cy="447.9" r="4.5"/><circle cx="529.3" cy="460.9" r="4.5"/><circle cx="537.3" cy="461.6" r="4.5"/><circle cx="531.2" cy="466.2" r="4.5"/><circle cx="538.0" cy="467.8" r="4.5"/><circle cx="529.6" cy="477.7" r="4.5"/><circle cx="537.3" cy="477.7" r="4.5"/><circle cx="538.0" cy="496.8" r="4.5"/><circle cx="532.7" cy="499.1" r="4.5"/><circle cx="536.5" cy="505.2" r="4.5"/><circle cx="535.7" cy="511.3" r="4.5"/><circle cx="530.4" cy="517.1" r="4.5"/><circle cx="536.2" cy="527.1" r="4.5"/>
</g>
<g fill="#80B1D3" fill-opacity="0.5">
<circle cx="699.8" cy="296.0" r="4.5"/><circle cx="698.2" cy="312.9" r="4.5"/><circle cx="698.7" cy="327.3" r="4.5"/><circle cx="703.3" cy="328.8" r="4.5"/><circle cx="697.9" cy="336.5" r="4.5"/><circle cx="698.1" cy="336.8" r="4.5"/><circle cx="702.5" cy="349.5" r="4.5"/><circle cx="701.5" cy="357.1" r="4.5"/><circle cx="700.7" cy="363.2" r="4.5"/><circle cx="697.5" cy="373.9" r="4.5"/><circle cx="695.6" cy="382.8" r="4.5"/><circle cx="699.8" cy="389.2" r="4.5"/><circle cx="699.5" cy="388.9" r="4.5"/><circle cx="702.2" cy="396.1" r="4.5"/><circle cx="701.3" cy="399.2" r="4.5"/><circle cx="697.2" cy="406.0" r="4.5"/><circle cx="697.9" cy="410.3" r="4.5"/><circle cx="695.6" cy="418.3" r="4.5"/><circle cx="694.1" cy="422.1" r="4.5"/><circle cx="693.7" cy="425.9" r="4.5"/><circle cx="697.2" cy="430.5" r="4.5"/><circle cx="695.6" cy="433.6" r="4.5"/><circle cx="699.5" cy="432.8" r="4.5"/><circle cx="702.5" cy="433.6" r="4.5"/><circle cx="697.2" cy="443.5" r="4.5"/><circle cx="702.5" cy="444.0" r="4.5"/><circle cx="701.8" cy="451.1" r="4.5"/><circle cx="694.1" cy="451.8" r="4.5"/><circle cx="694.6" cy="455.6" r="4.5"/><circle cx="697.9" cy="459.5" r="4.5"/><circle cx="699.5" cy="461.8" r="4.5"/><circle cx="701.0" cy="463.3" r="4.5"/><circle cx="697.9" cy="467.9" r="4.5"/><circle cx="696.4" cy="472.5" r="4.5"/><circle cx="695.6" cy="479.3" r="4.5"/><circle cx="699.5" cy="480.1" r="4.5"/><circle cx="697.9" cy="485.5" r="4.5"/><circle cx="700.2" cy="487.0" r="4.5"/><circle cx="698.7" cy="493.4" r="4.5"/><circle cx="695.6" cy="502.3" r="4.5"/><circle cx="703.7" cy="503.0" r="4.5"/><circle cx="694.1" cy="514.5" r="4.5"/><circle cx="695.6" cy="518.3" r="4.5"/><circle cx="697.9" cy="522.5" r="4.5"/>
</g>
<g fill="#FB8072" fill-opacity="0.5">
<circle cx="737.1" cy="228.8" r="4.5"/><circle cx="738.5" cy="317.1" r="4.5"/><circle cx="742.6" cy="315.9" r="4.5"/><circle cx="735.9" cy="341.1" r="4.5"/><circle cx="744.1" cy="343.0" r="4.5"/><circle cx="734.6" cy="350.5" r="4.5"/><circle cx="738.1" cy="371.3" r="4.5"/><circle cx="742.6" cy="381.6" r="4.5"/><circle cx="734.3" cy="386.2" r="4.5"/><circle cx="736.2" cy="387.7" r="4.5"/><circle cx="740.7" cy="390.7" r="4.5"/><circle cx="742.3" cy="395.3" r="4.5"/><circle cx="740.7" cy="399.9" r="4.5"/><circle cx="743.8" cy="401.5" r="4.5"/><circle cx="741.5" cy="403.7" r="4.5"/><circle cx="735.1" cy="411.7" r="4.5"/><circle cx="740.0" cy="415.2" r="4.5"/><circle cx="743.0" cy="416.7" r="4.5"/><circle cx="735.4" cy="422.4" r="4.5"/><circle cx="743.8" cy="432.0" r="4.5"/><circle cx="742.3" cy="435.1" r="4.5"/><circle cx="736.2" cy="438.1" r="4.5"/><circle cx="740.0" cy="439.7" r="4.5"/><circle cx="743.8" cy="441.2" r="4.5"/><circle cx="736.2" cy="443.5" r="4.5"/><circle cx="744.6" cy="446.5" r="4.5"/><circle cx="739.2" cy="450.3" r="4.5"/><circle cx="734.6" cy="454.9" r="4.5"/><circle cx="740.7" cy="460.2" r="4.5"/><circle cx="742.3" cy="462.5" r="4.5"/><circle cx="736.2" cy="464.1" r="4.5"/><circle cx="744.6" cy="467.1" r="4.5"/><circle cx="740.7" cy="470.2" r="4.5"/><circle cx="736.9" cy="476.3" r="4.5"/><circle cx="736.2" cy="482.7" r="4.5"/><circle cx="743.3" cy="487.4" r="4.5"/><circle cx="739.7" cy="493.1" r="4.5"/><circle cx="741.8" cy="508.9" r="4.5"/><circle cx="744.6" cy="510.2" r="4.5"/><circle cx="738.5" cy="512.2" r="4.5"/><circle cx="734.6" cy="514.2" r="4.5"/><circle cx="735.4" cy="521.4" r="4.5"/><circle cx="734.6" cy="527.5" r="4.5"/><circle cx="735.4" cy="534.7" r="4.5"/>
</g>
<g fill="#80B1D3" fill-opacity="0.5">
<circle cx="901.7" cy="124.5" r="4.5"/><circle cx="908.3" cy="138.0" r="4.5"/><circle cx="907.8" cy="142.1" r="4.5"/><circle cx="900.6" cy="166.6" r="4.5"/><circle cx="904.9" cy="202.8" r="4.5"/><circle cx="899.9" cy="220.1" r="4.5"/><circle cx="902.2" cy="221.6" r="4.5"/><circle cx="904.5" cy="220.9" r="4.5"/><circle cx="900.6" cy="223.9" r="4.5"/><circle cx="904.5" cy="225.4" r="4.5"/><circle cx="899.9" cy="234.5" r="4.5"/><circle cx="906.5" cy="247.5" r="4.5"/><circle cx="900.2" cy="259.4" r="4.5"/><circle cx="901.4" cy="261.3" r="4.5"/><circle cx="908.0" cy="274.3" r="4.5"/><circle cx="901.4" cy="275.8" r="4.5"/><circle cx="899.6" cy="281.2" r="4.5"/><circle cx="900.3" cy="287.0" r="4.5"/><circle cx="903.4" cy="294.2" r="4.5"/><circle cx="904.2" cy="302.6" r="4.5"/><circle cx="909.1" cy="312.5" r="4.5"/><circle cx="909.4" cy="314.0" r="4.5"/><circle cx="905.2" cy="329.3" r="4.5"/><circle cx="905.2" cy="339.3" r="4.5"/><circle cx="899.9" cy="340.0" r="4.5"/><circle cx="909.1" cy="349.1" r="4.5"/><circle cx="902.5" cy="359.8" r="4.5"/><circle cx="901.4" cy="368.2" r="4.5"/><circle cx="902.9" cy="372.0" r="4.5"/><circle cx="902.5" cy="375.1" r="4.5"/><circle cx="907.8" cy="379.7" r="4.5"/><circle cx="902.2" cy="383.8" r="4.5"/><circle cx="908.3" cy="406.1" r="4.5"/><circle cx="904.9" cy="408.4" r="4.5"/><circle cx="907.5" cy="411.8" r="4.5"/><circle cx="907.5" cy="413.3" r="4.5"/><circle cx="902.2" cy="426.6" r="4.5"/><circle cx="907.2" cy="433.7" r="4.5"/><circle cx="907.5" cy="451.5" r="4.5"/><circle cx="902.6" cy="457.6" r="4.5"/><circle cx="902.9" cy="458.3" r="4.5"/><circle cx="902.2" cy="462.9" r="4.5"/><circle cx="908.6" cy="472.9" r="4.5"/><circle cx="908.3" cy="538.6" r="4.5"/>
</g>
<g fill="#FB8072" fill-opacity="0.5">
<circle cx="944.2" cy="224.9" r="4.5"/><circle cx="945.7" cy="245.7" r="4.5"/><circle cx="947.3" cy="249.8" r="4.5"/><circle cx="941.9" cy="252.1" r="4.5"/><circle cx="947.3" cy="252.9" r="4.5"/><circle cx="943.5" cy="262.4" r="4.5"/><circle cx="946.5" cy="270.5" r="4.5"/><circle cx="944.5" cy="273.8" r="4.5"/><circle cx="948.0" cy="279.9" r="4.5"/><circle cx="947.0" cy="282.7" r="4.5"/><circle cx="941.2" cy="290.3" r="4.5"/><circle cx="944.2" cy="289.6" r="4.5"/><circle cx="948.0" cy="292.6" r="4.5"/><circle cx="949.1" cy="303.3" r="4.5"/><circle cx="948.0" cy="308.7" r="4.5"/><circle cx="940.9" cy="314.0" r="4.5"/><circle cx="948.5" cy="320.2" r="4.5"/><circle cx="940.4" cy="324.0" r="4.5"/><circle cx="945.0" cy="325.5" r="4.5"/><circle cx="941.2" cy="337.7" r="4.5"/><circle cx="941.2" cy="346.5" r="4.5"/><circle cx="946.8" cy="352.6" r="4.5"/><circle cx="943.5" cy="359.8" r="4.5"/><circle cx="946.5" cy="367.5" r="4.5"/><circle cx="940.7" cy="373.6" r="4.5"/><circle cx="947.7" cy="378.2" r="4.5"/><circle cx="941.2" cy="384.3" r="4.5"/><circle cx="948.0" cy="385.0" r="4.5"/><circle cx="941.5" cy="389.9" r="4.5"/><circle cx="948.0" cy="397.3" r="4.5"/><circle cx="949.6" cy="410.0" r="4.5"/><circle cx="940.4" cy="413.3" r="4.5"/><circle cx="943.9" cy="427.1" r="4.5"/><circle cx="944.7" cy="434.0" r="4.5"/><circle cx="941.9" cy="445.4" r="4.5"/><circle cx="947.3" cy="446.2" r="4.5"/><circle cx="943.9" cy="470.6" r="4.5"/><circle cx="945.4" cy="480.5" r="4.5"/><circle cx="945.0" cy="485.9" r="4.5"/><circle cx="949.3" cy="490.5" r="4.5"/><circle cx="942.7" cy="546.3" r="4.5"/>
</g>
<line x1="264.3" y1="263.6" x2="264.3" y2="489.3" stroke="#000" stroke-width="4.9"/>
<rect x="259.05" y="339.55" width="10.50" height="80.50" fill="#80B1D3" stroke="#000" stroke-width="4.9"/>
<line x1="259.05" y1="368.8" x2="269.55" y2="368.8" stroke="#000" stroke-width="4.8"/>
<line x1="305.9" y1="239.9" x2="305.9" y2="473.6" stroke="#000" stroke-width="4.9"/>
<rect x="300.65" y="348.55" width="10.50" height="72.30" fill="#FB8072" stroke="#000" stroke-width="4.9"/>
<line x1="300.65" y1="390.8" x2="311.15" y2="390.8" stroke="#000" stroke-width="4.8"/>
<line x1="470.4" y1="285.2" x2="470.4" y2="513.4" stroke="#000" stroke-width="4.9"/>
<rect x="465.15" y="377.65" width="10.50" height="87.50" fill="#80B1D3" stroke="#000" stroke-width="4.9"/>
<line x1="465.15" y1="426.4" x2="475.65" y2="426.4" stroke="#000" stroke-width="4.8"/>
<line x1="512.0" y1="261.3" x2="512.0" y2="522.0" stroke="#000" stroke-width="4.9"/>
<rect x="506.75" y="401.75" width="10.50" height="62.80" fill="#FB8072" stroke="#000" stroke-width="4.9"/>
<line x1="506.75" y1="434.4" x2="517.25" y2="434.4" stroke="#000" stroke-width="4.8"/>
<line x1="675.8" y1="304.0" x2="675.8" y2="520.3" stroke="#000" stroke-width="4.9"/>
<rect x="670.55" y="389.45" width="10.50" height="80.40" fill="#80B1D3" stroke="#000" stroke-width="4.9"/>
<line x1="670.55" y1="432.9" x2="681.05" y2="432.9" stroke="#000" stroke-width="4.8"/>
<line x1="717.1" y1="270.3" x2="717.1" y2="530.8" stroke="#000" stroke-width="4.9"/>
<rect x="711.85" y="399.05" width="10.50" height="70.60" fill="#FB8072" stroke="#000" stroke-width="4.9"/>
<line x1="711.85" y1="439.6" x2="722.35" y2="439.6" stroke="#000" stroke-width="4.8"/>
<line x1="881.4" y1="131.0" x2="881.4" y2="507.0" stroke="#000" stroke-width="4.9"/>
<rect x="876.15" y="232.25" width="10.50" height="157.60" fill="#80B1D3" stroke="#000" stroke-width="4.9"/>
<line x1="876.15" y1="314.9" x2="886.65" y2="314.9" stroke="#000" stroke-width="4.8"/>
<line x1="922.6" y1="234.8" x2="922.6" y2="519.7" stroke="#000" stroke-width="4.9"/>
<rect x="917.35" y="290.45" width="10.50" height="121.00" fill="#FB8072" stroke="#000" stroke-width="4.9"/>
<line x1="917.35" y1="347.1" x2="927.85" y2="347.1" stroke="#000" stroke-width="4.8"/>
<circle cx="241.1" cy="377.1" r="7.8" fill="#80B1D3" stroke="#000" stroke-width="5.0"/>
<circle cx="241.1" cy="386.5" r="7.8" fill="#FB8072" stroke="#000" stroke-width="5.0"/>
<circle cx="446.9" cy="418.6" r="7.8" fill="#80B1D3" stroke="#000" stroke-width="5.0"/>
<circle cx="446.9" cy="427.8" r="7.8" fill="#FB8072" stroke="#000" stroke-width="5.0"/>
<circle cx="652.3" cy="428.8" r="7.8" fill="#80B1D3" stroke="#000" stroke-width="5.0"/>
<circle cx="652.3" cy="433.4" r="7.8" fill="#FB8072" stroke="#000" stroke-width="5.0"/>
<circle cx="858.0" cy="319.3" r="7.8" fill="#80B1D3" stroke="#000" stroke-width="5.0"/>
<circle cx="858.0" cy="357.0" r="7.8" fill="#FB8072" stroke="#000" stroke-width="5.0"/>
</g>
<g stroke="#222222" stroke-width="2.8" fill="none">
<path d="M84.3 74.5 V662.4 H996"/>
<path d="M84.3 662.4 h10" stroke-width="2.4"/>
<path d="M84.3 532.0 h10" stroke-width="2.4"/>
<path d="M84.3 401.7 h10" stroke-width="2.4"/>
<path d="M84.3 271.4 h10" stroke-width="2.4"/>
<path d="M84.3 141.0 h10" stroke-width="2.4"/>
<path d="M241.0 662.4 v-10.4" stroke-width="2.6"/>
<path d="M446.7 662.4 v-10.4" stroke-width="2.6"/>
<path d="M652.3 662.4 v-10.4" stroke-width="2.6"/>
<path d="M857.9 662.4 v-10.4" stroke-width="2.6"/>
</g>
<g fill="#222222" font-size="31.5px">
<text x="70.6" y="675.3" text-anchor="end">0</text>
<text x="70.6" y="544.9" text-anchor="end">1</text>
<text x="70.6" y="414.6" text-anchor="end">2</text>
<text x="70.6" y="284.2" text-anchor="end">3</text>
<text x="70.6" y="153.9" text-anchor="end">4</text>
<text x="240.2" y="709.8" text-anchor="middle">1</text>
<text x="445.9" y="709.8" text-anchor="middle">2</text>
<text x="651.5" y="709.8" text-anchor="middle">3</text>
<text x="857.1" y="709.8" text-anchor="middle">4</text>
</g>
<text x="524.5" y="776" text-anchor="middle" font-size="43.5px" fill="#222222">Cycle</text>
<text transform="translate(31.8 402) rotate(-90)" text-anchor="middle" font-size="43.5px" fill="#222222">RTs in secs</text>
<text x="522.3" y="34.5" text-anchor="middle" font-size="50.2px" fill="#000">Repeated retrieval RTs to each question</text>
<rect x="109.4" y="79.7" width="306.3" height="109.0" fill="#fff" stroke="#222222" stroke-width="2.9"/>
<rect x="117.8" y="89.5" width="84.2" height="39.1" fill="#80B1D3" fill-opacity="0.5"/>
<rect x="117.8" y="140.1" width="84.2" height="39.2" fill="#FB8072" fill-opacity="0.5"/>
<text x="208.3" y="123.3" font-size="37.5px" fill="#000">Perceptual</text>
<text x="208.3" y="174.0" font-size="37.5px" fill="#000">Conceptual</text>
</svg></body></html>
